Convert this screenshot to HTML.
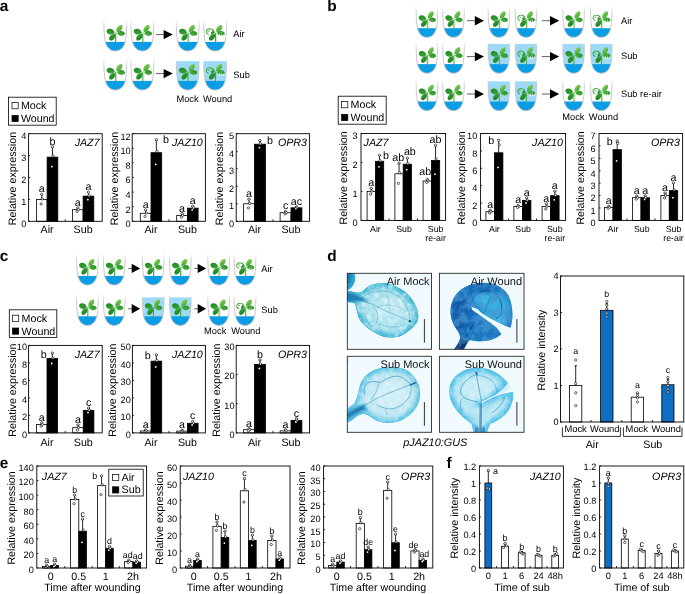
<!DOCTYPE html>
<html><head><meta charset="utf-8"><title>Figure</title>
<style>html,body{margin:0;padding:0;background:#fff;}body{width:685px;height:594px;overflow:hidden;font-family:"Liberation Sans",sans-serif;}svg{display:block;opacity:0.999;text-rendering:geometricPrecision}</style>
</head><body>
<svg width="685" height="594" viewBox="0 0 685 594" font-family="'Liberation Sans', sans-serif">
<defs>
<linearGradient id="tg" x1="0" y1="0" x2="0" y2="1"><stop offset="0" stop-color="#d0d0d0" stop-opacity="0"/><stop offset="0.25" stop-color="#c4c4c4" stop-opacity="1"/><stop offset="1" stop-color="#bdbdbd"/></linearGradient>
<linearGradient id="lf1" x1="0" y1="1" x2="1" y2="0"><stop offset="0" stop-color="#2f9e2c"/><stop offset="1" stop-color="#8fd45a"/></linearGradient>
<linearGradient id="lf2" x1="1" y1="0" x2="0" y2="1"><stop offset="0" stop-color="#1f8e25"/><stop offset="1" stop-color="#58b83f"/></linearGradient>
<linearGradient id="lf3" x1="0" y1="0" x2="1" y2="1"><stop offset="0" stop-color="#44ac36"/><stop offset="1" stop-color="#1b8522"/></linearGradient>
<linearGradient id="lf4" x1="1" y1="0" x2="0" y2="1"><stop offset="0" stop-color="#178020"/><stop offset="1" stop-color="#3ea432"/></linearGradient>
<clipPath id="tubeclip"><path d="M0.9 -3V0C0.9 10 1.2 18 2.4 23.5C3.8 28.8 7.2 32.4 12.1 32.4C17 32.4 20.4 28.8 21.8 23.5C23 18 23.3 10 23.3 0V-3Z"/></clipPath>
<g id="plant">
<path d="M12.5 24V14.5" stroke="#2f9a3a" stroke-width="0.9" fill="none"/><path d="M13.5 24V16.5" stroke="#a5d9a0" stroke-width="0.6" fill="none"/>
<path d="M0 0L1.57 -0.3C2.94 -3.04 9.11 -3.15 9.80 0C9.11 3.15 2.94 3.04 1.57 0.3Z" transform="translate(12.7 14.5) rotate(-53)" fill="url(#lf1)"/>
<path d="M0 0L1.50 -0.3C2.82 -3.62 8.74 -3.75 9.40 0C8.74 3.75 2.82 3.62 1.50 0.3Z" transform="translate(12.7 14.5) rotate(194)" fill="url(#lf3)"/>
<path d="M0 0L1.42 -0.3C2.67 -3.04 8.28 -3.15 8.90 0C8.28 3.15 2.67 3.04 1.42 0.3Z" transform="translate(12.7 14.5) rotate(4)" fill="url(#lf2)"/>
<path d="M0 0L1.50 -0.3C2.82 -3.04 8.74 -3.15 9.40 0C8.74 3.15 2.82 3.04 1.50 0.3Z" transform="translate(12.7 14.5) rotate(131)" fill="url(#lf4)"/>
</g>
<g id="plantw">
<path d="M12.5 24V14.5" stroke="#2f9a3a" stroke-width="0.9" fill="none"/><path d="M13.5 24V16.5" stroke="#a5d9a0" stroke-width="0.6" fill="none"/>
<path d="M0 0L1.57 -0.3C2.94 -3.04 9.11 -3.15 9.80 0C9.11 3.15 2.94 3.04 1.57 0.3Z" transform="translate(12.7 14.5) rotate(-53)" fill="url(#lf1)"/>
<path d="M0 0L1.50 -0.3C2.82 -3.04 8.74 -3.15 9.40 0C8.74 3.15 2.82 3.04 1.50 0.3Z" transform="translate(12.7 14.5) rotate(131)" fill="url(#lf4)"/>
<g transform="translate(12.7 14.5) rotate(194)"><path d="M1.5 0.3C2.8 3.6 8.7 3.8 9.4 0C9.2 -1.7 8 -2.7 6.6 -2.9" fill="none" stroke="#3fa83a" stroke-width="0.95" stroke-linecap="round"/><path d="M0 0L1.5 -0.3C2.2 -1.9 3.2 -2.7 4.6 -2.7L3.9 -1.2L5.2 -0.4L3.7 0.5L4.4 1.7L2.7 1.4L1.5 0.3Z" fill="#2e9a2e"/><path d="M6.2 0.9l0.9 -1.1l0.8 1.1" fill="none" stroke="#3fa83a" stroke-width="0.7"/></g>
<g transform="translate(12.7 14.5) rotate(4)"><path d="M0 0L1.42 -0.3C2.67 -3.04 8.28 -3.15 8.90 0C8.28 3.15 2.67 3.04 1.42 0.3Z" fill="url(#lf2)"/><path d="M3.0 3.2L4.0 0.1L4.9 3.2ZM5.2 3.2L6.1 0.3L6.9 3ZM7.1 2.8L7.8 0.5L8.6 2.2Z" fill="#fff"/><path d="M5.2 -0.9l1.2 0.2" stroke="#fff" stroke-width="0.5"/></g>
</g>
</defs>
<rect width="685" height="594" fill="#fff"/>
<text x="-0.20" y="11.30" font-size="15.4" text-anchor="start" font-weight="bold" fill="#000">a</text>
<text x="327.20" y="11.00" font-size="15.4" text-anchor="start" font-weight="bold" fill="#000">b</text>
<text x="-0.20" y="260.80" font-size="15.4" text-anchor="start" font-weight="bold" fill="#000">c</text>
<text x="327.20" y="260.80" font-size="15.4" text-anchor="start" font-weight="bold" fill="#000">d</text>
<text x="-0.20" y="467.80" font-size="15.4" text-anchor="start" font-weight="bold" fill="#000">e</text>
<text x="446.60" y="467.80" font-size="15.4" text-anchor="start" font-weight="bold" fill="#000">f</text>
<g transform="translate(102.94 18.60)">
<g transform="scale(1.0215 1)">
<g clip-path="url(#tubeclip)">
<rect x="0" y="23.3" width="24" height="10" fill="#0a9de6"/>
</g>
<path d="M0.9 0C0.9 10 1.2 18 2.4 23.5C3.8 28.8 7.2 32.4 12.1 32.4C17 32.4 20.4 28.8 21.8 23.5C23 18 23.3 10 23.3 0" fill="none" stroke="url(#tg)" stroke-width="0.9"/>
<use href="#plant"/>
</g>
</g>
<g transform="translate(130.04 18.60)">
<g transform="scale(1.0215 1)">
<g clip-path="url(#tubeclip)">
<rect x="0" y="23.3" width="24" height="10" fill="#0a9de6"/>
</g>
<path d="M0.9 0C0.9 10 1.2 18 2.4 23.5C3.8 28.8 7.2 32.4 12.1 32.4C17 32.4 20.4 28.8 21.8 23.5C23 18 23.3 10 23.3 0" fill="none" stroke="url(#tg)" stroke-width="0.9"/>
<use href="#plant"/>
</g>
</g>
<path d="M156.00 34.60H164.60" stroke="#3a3a3a" stroke-width="0.8" fill="none"/>
<path d="M172.80 34.60L163.60 29.90V39.30Z" fill="#000"/>
<g transform="translate(175.34 18.60)">
<g transform="scale(1.0215 1)">
<g clip-path="url(#tubeclip)">
<rect x="0" y="23.3" width="24" height="10" fill="#0a9de6"/>
</g>
<path d="M0.9 0C0.9 10 1.2 18 2.4 23.5C3.8 28.8 7.2 32.4 12.1 32.4C17 32.4 20.4 28.8 21.8 23.5C23 18 23.3 10 23.3 0" fill="none" stroke="url(#tg)" stroke-width="0.9"/>
<use href="#plant"/>
</g>
</g>
<g transform="translate(202.74 18.60)">
<g transform="scale(1.0215 1)">
<g clip-path="url(#tubeclip)">
<rect x="0" y="23.3" width="24" height="10" fill="#0a9de6"/>
</g>
<path d="M0.9 0C0.9 10 1.2 18 2.4 23.5C3.8 28.8 7.2 32.4 12.1 32.4C17 32.4 20.4 28.8 21.8 23.5C23 18 23.3 10 23.3 0" fill="none" stroke="url(#tg)" stroke-width="0.9"/>
<use href="#plantw"/>
</g>
</g>
<g transform="translate(102.94 57.60)">
<g transform="scale(1.0215 1)">
<g clip-path="url(#tubeclip)">
<rect x="0" y="23.3" width="24" height="10" fill="#0a9de6"/>
</g>
<path d="M0.9 0C0.9 10 1.2 18 2.4 23.5C3.8 28.8 7.2 32.4 12.1 32.4C17 32.4 20.4 28.8 21.8 23.5C23 18 23.3 10 23.3 0" fill="none" stroke="url(#tg)" stroke-width="0.9"/>
<use href="#plant"/>
</g>
</g>
<g transform="translate(130.04 57.60)">
<g transform="scale(1.0215 1)">
<g clip-path="url(#tubeclip)">
<rect x="0" y="23.3" width="24" height="10" fill="#0a9de6"/>
</g>
<path d="M0.9 0C0.9 10 1.2 18 2.4 23.5C3.8 28.8 7.2 32.4 12.1 32.4C17 32.4 20.4 28.8 21.8 23.5C23 18 23.3 10 23.3 0" fill="none" stroke="url(#tg)" stroke-width="0.9"/>
<use href="#plant"/>
</g>
</g>
<path d="M156.00 73.60H164.60" stroke="#3a3a3a" stroke-width="0.8" fill="none"/>
<path d="M172.80 73.60L163.60 68.90V78.30Z" fill="#000"/>
<g transform="translate(175.34 57.60)">
<g transform="scale(1.0215 1)">
<g clip-path="url(#tubeclip)">
<rect x="0" y="3.6" width="24" height="30" fill="#9edaf7"/>
<rect x="0" y="23.3" width="24" height="10" fill="#0a9de6"/>
</g>
<path d="M0.9 0C0.9 10 1.2 18 2.4 23.5C3.8 28.8 7.2 32.4 12.1 32.4C17 32.4 20.4 28.8 21.8 23.5C23 18 23.3 10 23.3 0" fill="none" stroke="url(#tg)" stroke-width="0.9"/>
<use href="#plant"/>
</g>
</g>
<g transform="translate(202.74 57.60)">
<g transform="scale(1.0215 1)">
<g clip-path="url(#tubeclip)">
<rect x="0" y="3.6" width="24" height="30" fill="#9edaf7"/>
<rect x="0" y="23.3" width="24" height="10" fill="#0a9de6"/>
</g>
<path d="M0.9 0C0.9 10 1.2 18 2.4 23.5C3.8 28.8 7.2 32.4 12.1 32.4C17 32.4 20.4 28.8 21.8 23.5C23 18 23.3 10 23.3 0" fill="none" stroke="url(#tg)" stroke-width="0.9"/>
<use href="#plantw"/>
</g>
</g>
<text x="233.30" y="36.60" font-size="9.3" text-anchor="start" fill="#000">Air</text>
<text x="233.30" y="77.90" font-size="9.3" text-anchor="start" fill="#000">Sub</text>
<text x="187.50" y="101.80" font-size="9.3" text-anchor="middle" fill="#000">Mock</text>
<text x="217.60" y="101.80" font-size="9.3" text-anchor="middle" fill="#000">Wound</text>
<rect x="8.50" y="97.20" width="47.70" height="28.00" fill="#fff" stroke="#000" stroke-width="0.8"/>
<rect x="12.00" y="102.60" width="6.2" height="6.2" fill="#fff" stroke="#000" stroke-width="0.7"/>
<text x="20.90" y="109.20" font-size="10.7" text-anchor="start" fill="#000">Mock</text>
<rect x="12.00" y="115.40" width="6.2" height="6.2" fill="#000" stroke="#000" stroke-width="0.7"/>
<text x="20.90" y="122.00" font-size="10.7" text-anchor="start" fill="#000">Wound</text>
<rect x="36.40" y="199.40" width="10.70" height="21.90" fill="#fff" stroke="#000" stroke-width="0.8"/>
<path d="M41.75 199.40V194.58M40.45 194.58H43.05" stroke="#000" stroke-width="0.85" fill="none"/>
<circle cx="41.75" cy="194.34" r="1.15" fill="#fff" stroke="#000" stroke-width="0.6"/>
<circle cx="42.35" cy="198.92" r="1.15" fill="#fff" stroke="#000" stroke-width="0.6"/>
<circle cx="41.15" cy="203.98" r="1.15" fill="#fff" stroke="#000" stroke-width="0.6"/>
<text x="41.75" y="192.34" font-size="10.7" text-anchor="middle" fill="#000">a</text>
<rect x="47.10" y="157.13" width="10.70" height="64.17" fill="#000" stroke="#000" stroke-width="0.8"/>
<path d="M52.45 157.13V147.06M51.15 147.06H53.75" stroke="#000" stroke-width="0.85" fill="none"/>
<circle cx="52.45" cy="146.56" r="1.15" fill="#fff" stroke="#000" stroke-width="0.6"/>
<circle cx="53.05" cy="156.13" r="1.15" fill="#fff" stroke="#000" stroke-width="0.6"/>
<circle cx="51.85" cy="166.70" r="0.9" fill="#fff"/>
<text x="52.45" y="144.56" font-size="10.7" text-anchor="middle" fill="#000">b</text>
<rect x="72.40" y="209.69" width="10.70" height="11.61" fill="#fff" stroke="#000" stroke-width="0.8"/>
<path d="M77.75 209.69V207.94M76.45 207.94H79.05" stroke="#000" stroke-width="0.85" fill="none"/>
<circle cx="77.75" cy="207.85" r="1.15" fill="#fff" stroke="#000" stroke-width="0.6"/>
<circle cx="78.35" cy="209.52" r="1.15" fill="#fff" stroke="#000" stroke-width="0.6"/>
<circle cx="77.15" cy="211.36" r="1.15" fill="#fff" stroke="#000" stroke-width="0.6"/>
<text x="77.75" y="205.85" font-size="10.7" text-anchor="middle" fill="#000">a</text>
<rect x="83.10" y="196.12" width="10.70" height="25.19" fill="#000" stroke="#000" stroke-width="0.8"/>
<path d="M88.45 196.12V192.39M87.15 192.39H89.75" stroke="#000" stroke-width="0.85" fill="none"/>
<circle cx="88.45" cy="192.21" r="1.15" fill="#fff" stroke="#000" stroke-width="0.6"/>
<circle cx="89.05" cy="195.74" r="1.15" fill="#fff" stroke="#000" stroke-width="0.6"/>
<circle cx="87.85" cy="199.65" r="0.9" fill="#fff"/>
<text x="88.45" y="190.21" font-size="10.7" text-anchor="middle" fill="#000">a</text>
<rect x="28.60" y="133.70" width="73.60" height="87.60" fill="none" stroke="#000" stroke-width="0.9"/>
<text x="26.40" y="226.91" font-size="9.2" text-anchor="end" fill="#000">0</text>
<text x="26.40" y="205.01" font-size="9.2" text-anchor="end" fill="#000">1</text>
<text x="26.40" y="183.11" font-size="9.2" text-anchor="end" fill="#000">2</text>
<text x="26.40" y="161.21" font-size="9.2" text-anchor="end" fill="#000">3</text>
<text x="26.40" y="139.31" font-size="9.2" text-anchor="end" fill="#000">4</text>
<path d="M28.60 221.30h1.6M28.60 199.40h1.6M28.60 177.50h1.6M28.60 155.60h1.6M28.60 133.70h1.6M65.20 221.30v-2" stroke="#000" stroke-width="0.8" fill="none"/>
<text x="15.60" y="178.50" font-size="10.7" text-anchor="middle" transform="rotate(-90 15.60 178.50)" fill="#000">Relative expression</text>
<text x="99.60" y="145.80" font-size="10.7" text-anchor="end" font-style="italic" fill="#000">JAZ7</text>
<text x="47.10" y="232.50" font-size="10.7" text-anchor="middle" fill="#000">Air</text>
<text x="83.10" y="232.50" font-size="10.7" text-anchor="middle" fill="#000">Sub</text>
<rect x="140.30" y="213.27" width="10.70" height="8.03" fill="#fff" stroke="#000" stroke-width="0.8"/>
<path d="M145.65 213.27V209.99M144.35 209.99H146.95" stroke="#000" stroke-width="0.85" fill="none"/>
<circle cx="145.65" cy="209.82" r="1.15" fill="#fff" stroke="#000" stroke-width="0.6"/>
<circle cx="146.25" cy="212.94" r="1.15" fill="#fff" stroke="#000" stroke-width="0.6"/>
<circle cx="145.05" cy="216.39" r="1.15" fill="#fff" stroke="#000" stroke-width="0.6"/>
<text x="145.65" y="207.82" font-size="10.7" text-anchor="middle" fill="#000">a</text>
<rect x="151.00" y="152.68" width="10.70" height="68.62" fill="#000" stroke="#000" stroke-width="0.8"/>
<path d="M156.35 152.68V140.27M155.05 140.27H157.65" stroke="#000" stroke-width="0.85" fill="none"/>
<circle cx="156.35" cy="139.65" r="1.15" fill="#fff" stroke="#000" stroke-width="0.6"/>
<circle cx="156.95" cy="151.44" r="1.15" fill="#fff" stroke="#000" stroke-width="0.6"/>
<circle cx="155.75" cy="164.47" r="0.9" fill="#fff"/>
<text x="162.90" y="142.95" font-size="10.7" text-anchor="start" fill="#000">b</text>
<rect x="176.70" y="215.46" width="10.70" height="5.84" fill="#fff" stroke="#000" stroke-width="0.8"/>
<path d="M182.05 215.46V213.64M180.75 213.64H183.35" stroke="#000" stroke-width="0.85" fill="none"/>
<circle cx="182.05" cy="213.54" r="1.15" fill="#fff" stroke="#000" stroke-width="0.6"/>
<circle cx="182.65" cy="215.28" r="1.15" fill="#fff" stroke="#000" stroke-width="0.6"/>
<circle cx="181.45" cy="217.19" r="1.15" fill="#fff" stroke="#000" stroke-width="0.6"/>
<text x="182.05" y="211.54" font-size="10.7" text-anchor="middle" fill="#000">a</text>
<rect x="187.40" y="208.16" width="10.70" height="13.14" fill="#000" stroke="#000" stroke-width="0.8"/>
<path d="M192.75 208.16V206.34M191.45 206.34H194.05" stroke="#000" stroke-width="0.85" fill="none"/>
<circle cx="192.75" cy="206.24" r="1.15" fill="#fff" stroke="#000" stroke-width="0.6"/>
<circle cx="193.35" cy="207.98" r="1.15" fill="#fff" stroke="#000" stroke-width="0.6"/>
<circle cx="192.15" cy="209.89" r="0.9" fill="#fff"/>
<text x="192.75" y="204.24" font-size="10.7" text-anchor="middle" fill="#000">a</text>
<rect x="132.20" y="133.70" width="73.20" height="87.60" fill="none" stroke="#000" stroke-width="0.9"/>
<text x="130.70" y="227.11" font-size="9.2" text-anchor="end" fill="#000">0</text>
<text x="130.70" y="212.51" font-size="9.2" text-anchor="end" fill="#000">2</text>
<text x="130.70" y="197.91" font-size="9.2" text-anchor="end" fill="#000">4</text>
<text x="130.70" y="183.31" font-size="9.2" text-anchor="end" fill="#000">6</text>
<text x="130.70" y="168.71" font-size="9.2" text-anchor="end" fill="#000">8</text>
<text x="130.70" y="154.11" font-size="9.2" text-anchor="end" fill="#000">10</text>
<text x="130.70" y="139.51" font-size="9.2" text-anchor="end" fill="#000">12</text>
<path d="M132.20 221.30h1.6M132.20 206.70h1.6M132.20 192.10h1.6M132.20 177.50h1.6M132.20 162.90h1.6M132.20 148.30h1.6M132.20 133.70h1.6M169.00 221.30v-2" stroke="#000" stroke-width="0.8" fill="none"/>
<text x="118.00" y="178.50" font-size="10.7" text-anchor="middle" transform="rotate(-90 118.00 178.50)" fill="#000">Relative expression</text>
<text x="202.80" y="145.80" font-size="10.7" text-anchor="end" font-style="italic" fill="#000">JAZ10</text>
<text x="151.00" y="232.50" font-size="10.7" text-anchor="middle" fill="#000">Air</text>
<text x="187.40" y="232.50" font-size="10.7" text-anchor="middle" fill="#000">Sub</text>
<rect x="243.60" y="203.78" width="10.90" height="17.52" fill="#fff" stroke="#000" stroke-width="0.8"/>
<path d="M249.05 203.78V199.40M247.75 199.40H250.35" stroke="#000" stroke-width="0.85" fill="none"/>
<circle cx="249.05" cy="199.18" r="1.15" fill="#fff" stroke="#000" stroke-width="0.6"/>
<circle cx="249.65" cy="203.34" r="1.15" fill="#fff" stroke="#000" stroke-width="0.6"/>
<circle cx="248.45" cy="207.94" r="1.15" fill="#fff" stroke="#000" stroke-width="0.6"/>
<text x="249.05" y="197.18" font-size="10.7" text-anchor="middle" fill="#000">a</text>
<rect x="254.50" y="144.21" width="10.90" height="77.09" fill="#000" stroke="#000" stroke-width="0.8"/>
<path d="M259.95 144.21V140.71M258.65 140.71H261.25" stroke="#000" stroke-width="0.85" fill="none"/>
<circle cx="259.95" cy="140.53" r="1.15" fill="#fff" stroke="#000" stroke-width="0.6"/>
<circle cx="260.55" cy="143.86" r="1.15" fill="#fff" stroke="#000" stroke-width="0.6"/>
<circle cx="259.35" cy="147.54" r="0.9" fill="#fff"/>
<text x="266.90" y="144.33" font-size="10.7" text-anchor="start" fill="#000">b</text>
<rect x="280.10" y="212.72" width="10.90" height="8.58" fill="#fff" stroke="#000" stroke-width="0.8"/>
<path d="M285.55 212.72V211.49M284.25 211.49H286.85" stroke="#000" stroke-width="0.85" fill="none"/>
<circle cx="285.55" cy="211.43" r="1.15" fill="#fff" stroke="#000" stroke-width="0.6"/>
<circle cx="286.15" cy="212.59" r="1.15" fill="#fff" stroke="#000" stroke-width="0.6"/>
<circle cx="284.95" cy="213.88" r="1.15" fill="#fff" stroke="#000" stroke-width="0.6"/>
<text x="285.55" y="209.43" font-size="10.7" text-anchor="middle" fill="#000">c</text>
<rect x="291.00" y="207.81" width="10.90" height="13.49" fill="#000" stroke="#000" stroke-width="0.8"/>
<path d="M296.45 207.81V207.11M295.15 207.11H297.75" stroke="#000" stroke-width="0.85" fill="none"/>
<circle cx="296.45" cy="206.71" r="1.15" fill="#fff" stroke="#000" stroke-width="0.6"/>
<circle cx="297.05" cy="207.70" r="1.15" fill="#fff" stroke="#000" stroke-width="0.6"/>
<circle cx="295.85" cy="208.81" r="1.15" fill="#fff" stroke="#000" stroke-width="0.6"/>
<text x="296.45" y="204.71" font-size="10.7" text-anchor="middle" fill="#000">ac</text>
<rect x="236.20" y="133.70" width="73.40" height="87.60" fill="none" stroke="#000" stroke-width="0.9"/>
<text x="234.00" y="226.91" font-size="9.2" text-anchor="end" fill="#000">0</text>
<text x="234.00" y="209.39" font-size="9.2" text-anchor="end" fill="#000">1</text>
<text x="234.00" y="191.87" font-size="9.2" text-anchor="end" fill="#000">2</text>
<text x="234.00" y="174.35" font-size="9.2" text-anchor="end" fill="#000">3</text>
<text x="234.00" y="156.83" font-size="9.2" text-anchor="end" fill="#000">4</text>
<text x="234.00" y="139.31" font-size="9.2" text-anchor="end" fill="#000">5</text>
<path d="M236.20 221.30h1.6M236.20 203.78h1.6M236.20 186.26h1.6M236.20 168.74h1.6M236.20 151.22h1.6M236.20 133.70h1.6M273.00 221.30v-2" stroke="#000" stroke-width="0.8" fill="none"/>
<text x="223.40" y="178.50" font-size="10.7" text-anchor="middle" transform="rotate(-90 223.40 178.50)" fill="#000">Relative expression</text>
<text x="307.00" y="145.80" font-size="10.7" text-anchor="end" font-style="italic" fill="#000">OPR3</text>
<text x="254.50" y="232.50" font-size="10.7" text-anchor="middle" fill="#000">Air</text>
<text x="291.00" y="232.50" font-size="10.7" text-anchor="middle" fill="#000">Sub</text>
<g transform="translate(415.22 4.90)">
<g transform="scale(0.9657 1)">
<g clip-path="url(#tubeclip)">
<rect x="0" y="23.3" width="24" height="10" fill="#0a9de6"/>
</g>
<path d="M0.9 0C0.9 10 1.2 18 2.4 23.5C3.8 28.8 7.2 32.4 12.1 32.4C17 32.4 20.4 28.8 21.8 23.5C23 18 23.3 10 23.3 0" fill="none" stroke="url(#tg)" stroke-width="0.9"/>
<use href="#plant"/>
</g>
</g>
<g transform="translate(441.82 4.90)">
<g transform="scale(0.9657 1)">
<g clip-path="url(#tubeclip)">
<rect x="0" y="23.3" width="24" height="10" fill="#0a9de6"/>
</g>
<path d="M0.9 0C0.9 10 1.2 18 2.4 23.5C3.8 28.8 7.2 32.4 12.1 32.4C17 32.4 20.4 28.8 21.8 23.5C23 18 23.3 10 23.3 0" fill="none" stroke="url(#tg)" stroke-width="0.9"/>
<use href="#plant"/>
</g>
</g>
<path d="M467.00 20.70H475.80" stroke="#3a3a3a" stroke-width="0.8" fill="none"/>
<path d="M484.00 20.70L474.80 16.00V25.40Z" fill="#000"/>
<g transform="translate(487.22 4.90)">
<g transform="scale(0.9657 1)">
<g clip-path="url(#tubeclip)">
<rect x="0" y="23.3" width="24" height="10" fill="#0a9de6"/>
</g>
<path d="M0.9 0C0.9 10 1.2 18 2.4 23.5C3.8 28.8 7.2 32.4 12.1 32.4C17 32.4 20.4 28.8 21.8 23.5C23 18 23.3 10 23.3 0" fill="none" stroke="url(#tg)" stroke-width="0.9"/>
<use href="#plant"/>
</g>
</g>
<g transform="translate(514.32 4.90)">
<g transform="scale(0.9657 1)">
<g clip-path="url(#tubeclip)">
<rect x="0" y="23.3" width="24" height="10" fill="#0a9de6"/>
</g>
<path d="M0.9 0C0.9 10 1.2 18 2.4 23.5C3.8 28.8 7.2 32.4 12.1 32.4C17 32.4 20.4 28.8 21.8 23.5C23 18 23.3 10 23.3 0" fill="none" stroke="url(#tg)" stroke-width="0.9"/>
<use href="#plantw"/>
</g>
</g>
<path d="M541.80 20.70H551.00" stroke="#3a3a3a" stroke-width="0.8" fill="none"/>
<path d="M559.20 20.70L550.00 16.00V25.40Z" fill="#000"/>
<g transform="translate(561.92 4.90)">
<g transform="scale(0.9657 1)">
<g clip-path="url(#tubeclip)">
<rect x="0" y="23.3" width="24" height="10" fill="#0a9de6"/>
</g>
<path d="M0.9 0C0.9 10 1.2 18 2.4 23.5C3.8 28.8 7.2 32.4 12.1 32.4C17 32.4 20.4 28.8 21.8 23.5C23 18 23.3 10 23.3 0" fill="none" stroke="url(#tg)" stroke-width="0.9"/>
<use href="#plant"/>
</g>
</g>
<g transform="translate(589.62 4.90)">
<g transform="scale(0.9657 1)">
<g clip-path="url(#tubeclip)">
<rect x="0" y="23.3" width="24" height="10" fill="#0a9de6"/>
</g>
<path d="M0.9 0C0.9 10 1.2 18 2.4 23.5C3.8 28.8 7.2 32.4 12.1 32.4C17 32.4 20.4 28.8 21.8 23.5C23 18 23.3 10 23.3 0" fill="none" stroke="url(#tg)" stroke-width="0.9"/>
<use href="#plantw"/>
</g>
</g>
<g transform="translate(415.22 40.80)">
<g transform="scale(0.9657 1)">
<g clip-path="url(#tubeclip)">
<rect x="0" y="23.3" width="24" height="10" fill="#0a9de6"/>
</g>
<path d="M0.9 0C0.9 10 1.2 18 2.4 23.5C3.8 28.8 7.2 32.4 12.1 32.4C17 32.4 20.4 28.8 21.8 23.5C23 18 23.3 10 23.3 0" fill="none" stroke="url(#tg)" stroke-width="0.9"/>
<use href="#plant"/>
</g>
</g>
<g transform="translate(441.82 40.80)">
<g transform="scale(0.9657 1)">
<g clip-path="url(#tubeclip)">
<rect x="0" y="23.3" width="24" height="10" fill="#0a9de6"/>
</g>
<path d="M0.9 0C0.9 10 1.2 18 2.4 23.5C3.8 28.8 7.2 32.4 12.1 32.4C17 32.4 20.4 28.8 21.8 23.5C23 18 23.3 10 23.3 0" fill="none" stroke="url(#tg)" stroke-width="0.9"/>
<use href="#plant"/>
</g>
</g>
<path d="M467.00 56.60H475.80" stroke="#3a3a3a" stroke-width="0.8" fill="none"/>
<path d="M484.00 56.60L474.80 51.90V61.30Z" fill="#000"/>
<g transform="translate(487.22 40.80)">
<g transform="scale(0.9657 1)">
<g clip-path="url(#tubeclip)">
<rect x="0" y="3.1" width="24" height="30" fill="#9edaf7"/>
<rect x="0" y="23.3" width="24" height="10" fill="#0a9de6"/>
</g>
<path d="M0.9 0C0.9 10 1.2 18 2.4 23.5C3.8 28.8 7.2 32.4 12.1 32.4C17 32.4 20.4 28.8 21.8 23.5C23 18 23.3 10 23.3 0" fill="none" stroke="url(#tg)" stroke-width="0.9"/>
<use href="#plant"/>
</g>
</g>
<g transform="translate(514.32 40.80)">
<g transform="scale(0.9657 1)">
<g clip-path="url(#tubeclip)">
<rect x="0" y="3.1" width="24" height="30" fill="#9edaf7"/>
<rect x="0" y="23.3" width="24" height="10" fill="#0a9de6"/>
</g>
<path d="M0.9 0C0.9 10 1.2 18 2.4 23.5C3.8 28.8 7.2 32.4 12.1 32.4C17 32.4 20.4 28.8 21.8 23.5C23 18 23.3 10 23.3 0" fill="none" stroke="url(#tg)" stroke-width="0.9"/>
<use href="#plantw"/>
</g>
</g>
<path d="M541.80 56.60H551.00" stroke="#3a3a3a" stroke-width="0.8" fill="none"/>
<path d="M559.20 56.60L550.00 51.90V61.30Z" fill="#000"/>
<g transform="translate(561.92 40.80)">
<g transform="scale(0.9657 1)">
<g clip-path="url(#tubeclip)">
<rect x="0" y="3.1" width="24" height="30" fill="#9edaf7"/>
<rect x="0" y="23.3" width="24" height="10" fill="#0a9de6"/>
</g>
<path d="M0.9 0C0.9 10 1.2 18 2.4 23.5C3.8 28.8 7.2 32.4 12.1 32.4C17 32.4 20.4 28.8 21.8 23.5C23 18 23.3 10 23.3 0" fill="none" stroke="url(#tg)" stroke-width="0.9"/>
<use href="#plant"/>
</g>
</g>
<g transform="translate(589.62 40.80)">
<g transform="scale(0.9657 1)">
<g clip-path="url(#tubeclip)">
<rect x="0" y="3.1" width="24" height="30" fill="#9edaf7"/>
<rect x="0" y="23.3" width="24" height="10" fill="#0a9de6"/>
</g>
<path d="M0.9 0C0.9 10 1.2 18 2.4 23.5C3.8 28.8 7.2 32.4 12.1 32.4C17 32.4 20.4 28.8 21.8 23.5C23 18 23.3 10 23.3 0" fill="none" stroke="url(#tg)" stroke-width="0.9"/>
<use href="#plantw"/>
</g>
</g>
<g transform="translate(415.22 78.20)">
<g transform="scale(0.9657 1)">
<g clip-path="url(#tubeclip)">
<rect x="0" y="23.3" width="24" height="10" fill="#0a9de6"/>
</g>
<path d="M0.9 0C0.9 10 1.2 18 2.4 23.5C3.8 28.8 7.2 32.4 12.1 32.4C17 32.4 20.4 28.8 21.8 23.5C23 18 23.3 10 23.3 0" fill="none" stroke="url(#tg)" stroke-width="0.9"/>
<use href="#plant"/>
</g>
</g>
<g transform="translate(441.82 78.20)">
<g transform="scale(0.9657 1)">
<g clip-path="url(#tubeclip)">
<rect x="0" y="23.3" width="24" height="10" fill="#0a9de6"/>
</g>
<path d="M0.9 0C0.9 10 1.2 18 2.4 23.5C3.8 28.8 7.2 32.4 12.1 32.4C17 32.4 20.4 28.8 21.8 23.5C23 18 23.3 10 23.3 0" fill="none" stroke="url(#tg)" stroke-width="0.9"/>
<use href="#plant"/>
</g>
</g>
<path d="M467.00 94.00H475.80" stroke="#3a3a3a" stroke-width="0.8" fill="none"/>
<path d="M484.00 94.00L474.80 89.30V98.70Z" fill="#000"/>
<g transform="translate(487.22 78.20)">
<g transform="scale(0.9657 1)">
<g clip-path="url(#tubeclip)">
<rect x="0" y="3.1" width="24" height="30" fill="#9edaf7"/>
<rect x="0" y="23.3" width="24" height="10" fill="#0a9de6"/>
</g>
<path d="M0.9 0C0.9 10 1.2 18 2.4 23.5C3.8 28.8 7.2 32.4 12.1 32.4C17 32.4 20.4 28.8 21.8 23.5C23 18 23.3 10 23.3 0" fill="none" stroke="url(#tg)" stroke-width="0.9"/>
<use href="#plant"/>
</g>
</g>
<g transform="translate(514.32 78.20)">
<g transform="scale(0.9657 1)">
<g clip-path="url(#tubeclip)">
<rect x="0" y="3.1" width="24" height="30" fill="#9edaf7"/>
<rect x="0" y="23.3" width="24" height="10" fill="#0a9de6"/>
</g>
<path d="M0.9 0C0.9 10 1.2 18 2.4 23.5C3.8 28.8 7.2 32.4 12.1 32.4C17 32.4 20.4 28.8 21.8 23.5C23 18 23.3 10 23.3 0" fill="none" stroke="url(#tg)" stroke-width="0.9"/>
<use href="#plantw"/>
</g>
</g>
<path d="M541.80 94.00H551.00" stroke="#3a3a3a" stroke-width="0.8" fill="none"/>
<path d="M559.20 94.00L550.00 89.30V98.70Z" fill="#000"/>
<g transform="translate(561.92 78.20)">
<g transform="scale(0.9657 1)">
<g clip-path="url(#tubeclip)">
<rect x="0" y="23.3" width="24" height="10" fill="#0a9de6"/>
</g>
<path d="M0.9 0C0.9 10 1.2 18 2.4 23.5C3.8 28.8 7.2 32.4 12.1 32.4C17 32.4 20.4 28.8 21.8 23.5C23 18 23.3 10 23.3 0" fill="none" stroke="url(#tg)" stroke-width="0.9"/>
<use href="#plant"/>
</g>
</g>
<g transform="translate(589.62 78.20)">
<g transform="scale(0.9657 1)">
<g clip-path="url(#tubeclip)">
<rect x="0" y="23.3" width="24" height="10" fill="#0a9de6"/>
</g>
<path d="M0.9 0C0.9 10 1.2 18 2.4 23.5C3.8 28.8 7.2 32.4 12.1 32.4C17 32.4 20.4 28.8 21.8 23.5C23 18 23.3 10 23.3 0" fill="none" stroke="url(#tg)" stroke-width="0.9"/>
<use href="#plantw"/>
</g>
</g>
<text x="621.00" y="24.30" font-size="9.3" text-anchor="start" fill="#000">Air</text>
<text x="621.00" y="59.40" font-size="9.3" text-anchor="start" fill="#000">Sub</text>
<text x="621.00" y="96.80" font-size="9.3" text-anchor="start" fill="#000">Sub re-air</text>
<text x="573.40" y="119.60" font-size="9.3" text-anchor="middle" fill="#000">Mock</text>
<text x="603.50" y="119.60" font-size="9.3" text-anchor="middle" fill="#000">Wound</text>
<rect x="338.20" y="96.20" width="48.00" height="28.00" fill="#fff" stroke="#000" stroke-width="0.8"/>
<rect x="341.60" y="101.60" width="6.2" height="6.2" fill="#fff" stroke="#000" stroke-width="0.7"/>
<text x="350.60" y="108.20" font-size="10.7" text-anchor="start" fill="#000">Mock</text>
<rect x="341.60" y="114.40" width="6.2" height="6.2" fill="#000" stroke="#000" stroke-width="0.7"/>
<text x="350.60" y="121.00" font-size="10.7" text-anchor="start" fill="#000">Wound</text>
<rect x="367.10" y="191.43" width="8.30" height="28.97" fill="#fff" stroke="#000" stroke-width="0.8"/>
<path d="M371.25 191.43V188.54M369.95 188.54H372.55" stroke="#000" stroke-width="0.85" fill="none"/>
<circle cx="371.25" cy="188.39" r="1.15" fill="#fff" stroke="#000" stroke-width="0.6"/>
<circle cx="371.85" cy="191.14" r="1.15" fill="#fff" stroke="#000" stroke-width="0.6"/>
<circle cx="370.65" cy="194.19" r="1.15" fill="#fff" stroke="#000" stroke-width="0.6"/>
<text x="371.25" y="186.39" font-size="10.7" text-anchor="middle" fill="#000">a</text>
<rect x="375.40" y="161.31" width="8.30" height="59.09" fill="#000" stroke="#000" stroke-width="0.8"/>
<path d="M379.55 161.31V155.51M378.25 155.51H380.85" stroke="#000" stroke-width="0.85" fill="none"/>
<circle cx="379.55" cy="155.22" r="1.15" fill="#fff" stroke="#000" stroke-width="0.6"/>
<circle cx="380.15" cy="160.73" r="1.15" fill="#fff" stroke="#000" stroke-width="0.6"/>
<circle cx="378.95" cy="166.81" r="0.9" fill="#fff"/>
<text x="383.10" y="159.03" font-size="10.7" text-anchor="start" fill="#000">b</text>
<rect x="394.90" y="173.76" width="8.30" height="46.64" fill="#fff" stroke="#000" stroke-width="0.8"/>
<path d="M399.05 173.76V163.63M397.75 163.63H400.35" stroke="#000" stroke-width="0.85" fill="none"/>
<circle cx="399.05" cy="163.12" r="1.15" fill="#fff" stroke="#000" stroke-width="0.6"/>
<circle cx="399.65" cy="172.75" r="1.15" fill="#fff" stroke="#000" stroke-width="0.6"/>
<circle cx="398.45" cy="183.40" r="1.15" fill="#fff" stroke="#000" stroke-width="0.6"/>
<text x="398.25" y="161.12" font-size="10.7" text-anchor="middle" fill="#000">ab</text>
<rect x="403.20" y="164.20" width="8.30" height="56.20" fill="#000" stroke="#000" stroke-width="0.8"/>
<path d="M407.35 164.20V158.41M406.05 158.41H408.65" stroke="#000" stroke-width="0.85" fill="none"/>
<circle cx="407.35" cy="158.12" r="1.15" fill="#fff" stroke="#000" stroke-width="0.6"/>
<circle cx="407.95" cy="163.63" r="1.15" fill="#fff" stroke="#000" stroke-width="0.6"/>
<circle cx="406.75" cy="169.71" r="0.9" fill="#fff"/>
<text x="409.85" y="154.62" font-size="10.7" text-anchor="middle" fill="#000">ab</text>
<rect x="423.10" y="181.01" width="8.30" height="39.39" fill="#fff" stroke="#000" stroke-width="0.8"/>
<path d="M427.25 181.01V179.56M425.95 179.56H428.55" stroke="#000" stroke-width="0.85" fill="none"/>
<circle cx="427.25" cy="179.48" r="1.15" fill="#fff" stroke="#000" stroke-width="0.6"/>
<circle cx="427.85" cy="180.86" r="1.15" fill="#fff" stroke="#000" stroke-width="0.6"/>
<circle cx="426.65" cy="182.38" r="1.15" fill="#fff" stroke="#000" stroke-width="0.6"/>
<text x="425.25" y="174.98" font-size="10.7" text-anchor="middle" fill="#000">ab</text>
<rect x="431.40" y="160.44" width="8.30" height="59.96" fill="#000" stroke="#000" stroke-width="0.8"/>
<path d="M435.55 160.44V145.96M434.25 145.96H436.85" stroke="#000" stroke-width="0.85" fill="none"/>
<circle cx="435.55" cy="145.23" r="1.15" fill="#fff" stroke="#000" stroke-width="0.6"/>
<circle cx="436.15" cy="158.99" r="1.15" fill="#fff" stroke="#000" stroke-width="0.6"/>
<circle cx="434.95" cy="174.20" r="0.9" fill="#fff"/>
<text x="435.55" y="143.23" font-size="10.7" text-anchor="middle" fill="#000">ab</text>
<rect x="361.00" y="133.50" width="84.60" height="86.90" fill="none" stroke="#000" stroke-width="0.9"/>
<text x="357.70" y="226.21" font-size="9.2" text-anchor="end" fill="#000">0</text>
<text x="357.70" y="197.25" font-size="9.2" text-anchor="end" fill="#000">1</text>
<text x="357.70" y="168.28" font-size="9.2" text-anchor="end" fill="#000">2</text>
<text x="357.70" y="139.31" font-size="9.2" text-anchor="end" fill="#000">3</text>
<path d="M361.00 220.40h1.6M361.00 191.43h1.6M361.00 162.47h1.6M361.00 133.50h1.6M389.00 220.40v-2M417.50 220.40v-2" stroke="#000" stroke-width="0.8" fill="none"/>
<text x="347.20" y="177.95" font-size="10.7" text-anchor="middle" transform="rotate(-90 347.20 177.95)" fill="#000">Relative expression</text>
<text x="363.60" y="145.60" font-size="10.7" text-anchor="start" font-style="italic" fill="#000">JAZ7</text>
<text x="375.40" y="231.50" font-size="8.8" text-anchor="middle" fill="#000">Air</text>
<text x="404.00" y="231.50" font-size="8.8" text-anchor="middle" fill="#000">Sub</text>
<text x="435.60" y="231.50" font-size="8.8" text-anchor="middle" fill="#000">Sub</text>
<text x="435.60" y="240.70" font-size="8.8" text-anchor="middle" fill="#000">re-air</text>
<rect x="485.90" y="211.71" width="8.50" height="8.69" fill="#fff" stroke="#000" stroke-width="0.8"/>
<path d="M490.15 211.71V210.41M488.85 210.41H491.45" stroke="#000" stroke-width="0.85" fill="none"/>
<circle cx="490.15" cy="210.34" r="1.15" fill="#fff" stroke="#000" stroke-width="0.6"/>
<circle cx="490.75" cy="211.58" r="1.15" fill="#fff" stroke="#000" stroke-width="0.6"/>
<circle cx="489.55" cy="212.95" r="1.15" fill="#fff" stroke="#000" stroke-width="0.6"/>
<text x="490.15" y="208.34" font-size="10.7" text-anchor="middle" fill="#000">a</text>
<rect x="494.40" y="152.79" width="8.50" height="67.61" fill="#000" stroke="#000" stroke-width="0.8"/>
<path d="M498.65 152.79V139.76M497.35 139.76H499.95" stroke="#000" stroke-width="0.85" fill="none"/>
<circle cx="498.65" cy="140.45" r="1.15" fill="#fff" stroke="#000" stroke-width="0.6"/>
<circle cx="499.25" cy="144.80" r="1.15" fill="#fff" stroke="#000" stroke-width="0.6"/>
<circle cx="498.05" cy="167.39" r="0.9" fill="#fff"/>
<text x="494.10" y="144.25" font-size="10.7" text-anchor="end" fill="#000">b</text>
<rect x="513.90" y="206.50" width="8.50" height="13.90" fill="#fff" stroke="#000" stroke-width="0.8"/>
<path d="M518.15 206.50V205.63M516.85 205.63H519.45" stroke="#000" stroke-width="0.85" fill="none"/>
<circle cx="518.15" cy="205.40" r="1.15" fill="#fff" stroke="#000" stroke-width="0.6"/>
<circle cx="518.75" cy="206.39" r="1.15" fill="#fff" stroke="#000" stroke-width="0.6"/>
<circle cx="517.55" cy="207.49" r="1.15" fill="#fff" stroke="#000" stroke-width="0.6"/>
<text x="518.15" y="203.40" font-size="10.7" text-anchor="middle" fill="#000">a</text>
<rect x="522.40" y="200.41" width="8.50" height="19.99" fill="#000" stroke="#000" stroke-width="0.8"/>
<path d="M526.65 200.41V197.81M525.35 197.81H527.95" stroke="#000" stroke-width="0.85" fill="none"/>
<circle cx="526.65" cy="197.68" r="1.15" fill="#fff" stroke="#000" stroke-width="0.6"/>
<circle cx="527.25" cy="200.15" r="1.15" fill="#fff" stroke="#000" stroke-width="0.6"/>
<circle cx="526.05" cy="202.89" r="0.9" fill="#fff"/>
<text x="526.65" y="195.68" font-size="10.7" text-anchor="middle" fill="#000">a</text>
<rect x="542.10" y="206.50" width="8.50" height="13.90" fill="#fff" stroke="#000" stroke-width="0.8"/>
<path d="M546.35 206.50V203.89M545.05 203.89H547.65" stroke="#000" stroke-width="0.85" fill="none"/>
<circle cx="546.35" cy="203.76" r="1.15" fill="#fff" stroke="#000" stroke-width="0.6"/>
<circle cx="546.95" cy="206.24" r="1.15" fill="#fff" stroke="#000" stroke-width="0.6"/>
<circle cx="545.75" cy="208.97" r="1.15" fill="#fff" stroke="#000" stroke-width="0.6"/>
<text x="546.35" y="201.76" font-size="10.7" text-anchor="middle" fill="#000">a</text>
<rect x="550.60" y="195.72" width="8.50" height="24.68" fill="#000" stroke="#000" stroke-width="0.8"/>
<path d="M554.85 195.72V191.38M553.55 191.38H556.15" stroke="#000" stroke-width="0.85" fill="none"/>
<circle cx="554.85" cy="191.16" r="1.15" fill="#fff" stroke="#000" stroke-width="0.6"/>
<circle cx="555.45" cy="195.29" r="1.15" fill="#fff" stroke="#000" stroke-width="0.6"/>
<circle cx="554.25" cy="199.85" r="0.9" fill="#fff"/>
<text x="554.85" y="189.16" font-size="10.7" text-anchor="middle" fill="#000">a</text>
<rect x="480.60" y="133.50" width="85.00" height="86.90" fill="none" stroke="#000" stroke-width="0.9"/>
<text x="477.30" y="226.21" font-size="9.2" text-anchor="end" fill="#000">0</text>
<text x="477.30" y="208.83" font-size="9.2" text-anchor="end" fill="#000">2</text>
<text x="477.30" y="191.45" font-size="9.2" text-anchor="end" fill="#000">4</text>
<text x="477.30" y="174.07" font-size="9.2" text-anchor="end" fill="#000">6</text>
<text x="477.30" y="156.69" font-size="9.2" text-anchor="end" fill="#000">8</text>
<text x="477.30" y="139.31" font-size="9.2" text-anchor="end" fill="#000">10</text>
<path d="M480.60 220.40h1.6M480.60 203.02h1.6M480.60 185.64h1.6M480.60 168.26h1.6M480.60 150.88h1.6M480.60 133.50h1.6M508.50 220.40v-2M536.50 220.40v-2" stroke="#000" stroke-width="0.8" fill="none"/>
<text x="464.80" y="177.95" font-size="10.7" text-anchor="middle" transform="rotate(-90 464.80 177.95)" fill="#000">Relative expression</text>
<text x="563.00" y="145.60" font-size="10.7" text-anchor="end" font-style="italic" fill="#000">JAZ10</text>
<text x="494.40" y="231.50" font-size="8.8" text-anchor="middle" fill="#000">Air</text>
<text x="523.20" y="231.50" font-size="8.8" text-anchor="middle" fill="#000">Sub</text>
<text x="554.80" y="231.50" font-size="8.8" text-anchor="middle" fill="#000">Sub</text>
<text x="554.80" y="240.70" font-size="8.8" text-anchor="middle" fill="#000">re-air</text>
<rect x="604.60" y="207.37" width="8.40" height="13.03" fill="#fff" stroke="#000" stroke-width="0.8"/>
<path d="M608.80 207.37V206.37M607.50 206.37H610.10" stroke="#000" stroke-width="0.85" fill="none"/>
<circle cx="608.80" cy="206.27" r="1.15" fill="#fff" stroke="#000" stroke-width="0.6"/>
<circle cx="609.40" cy="207.26" r="1.15" fill="#fff" stroke="#000" stroke-width="0.6"/>
<circle cx="608.20" cy="208.36" r="1.15" fill="#fff" stroke="#000" stroke-width="0.6"/>
<text x="608.80" y="204.27" font-size="10.7" text-anchor="middle" fill="#000">a</text>
<rect x="613.00" y="149.64" width="8.40" height="70.76" fill="#000" stroke="#000" stroke-width="0.8"/>
<path d="M617.20 149.64V142.19M615.90 142.19H618.50" stroke="#000" stroke-width="0.85" fill="none"/>
<circle cx="617.20" cy="140.95" r="1.15" fill="#fff" stroke="#000" stroke-width="0.6"/>
<circle cx="617.80" cy="143.43" r="1.15" fill="#fff" stroke="#000" stroke-width="0.6"/>
<circle cx="616.60" cy="160.81" r="0.9" fill="#fff"/>
<text x="612.70" y="144.75" font-size="10.7" text-anchor="end" fill="#000">b</text>
<rect x="632.60" y="197.68" width="8.40" height="22.72" fill="#fff" stroke="#000" stroke-width="0.8"/>
<path d="M636.80 197.68V196.19M635.50 196.19H638.10" stroke="#000" stroke-width="0.85" fill="none"/>
<circle cx="636.80" cy="196.12" r="1.15" fill="#fff" stroke="#000" stroke-width="0.6"/>
<circle cx="637.40" cy="197.53" r="1.15" fill="#fff" stroke="#000" stroke-width="0.6"/>
<circle cx="636.20" cy="199.10" r="1.15" fill="#fff" stroke="#000" stroke-width="0.6"/>
<text x="636.80" y="194.12" font-size="10.7" text-anchor="middle" fill="#000">a</text>
<rect x="641.00" y="197.68" width="8.40" height="22.72" fill="#000" stroke="#000" stroke-width="0.8"/>
<path d="M645.20 197.68V195.82M643.90 195.82H646.50" stroke="#000" stroke-width="0.85" fill="none"/>
<circle cx="645.20" cy="195.73" r="1.15" fill="#fff" stroke="#000" stroke-width="0.6"/>
<circle cx="645.80" cy="197.50" r="1.15" fill="#fff" stroke="#000" stroke-width="0.6"/>
<circle cx="644.60" cy="199.45" r="0.9" fill="#fff"/>
<text x="645.20" y="193.73" font-size="10.7" text-anchor="middle" fill="#000">a</text>
<rect x="660.90" y="195.57" width="8.40" height="24.83" fill="#fff" stroke="#000" stroke-width="0.8"/>
<path d="M665.10 195.57V193.09M663.80 193.09H666.40" stroke="#000" stroke-width="0.85" fill="none"/>
<circle cx="665.10" cy="192.96" r="1.15" fill="#fff" stroke="#000" stroke-width="0.6"/>
<circle cx="665.70" cy="195.32" r="1.15" fill="#fff" stroke="#000" stroke-width="0.6"/>
<circle cx="664.50" cy="197.93" r="1.15" fill="#fff" stroke="#000" stroke-width="0.6"/>
<text x="665.10" y="190.96" font-size="10.7" text-anchor="middle" fill="#000">a</text>
<rect x="669.30" y="190.61" width="8.40" height="29.79" fill="#000" stroke="#000" stroke-width="0.8"/>
<path d="M673.50 190.61V183.16M672.20 183.16H674.80" stroke="#000" stroke-width="0.85" fill="none"/>
<circle cx="673.50" cy="182.78" r="1.15" fill="#fff" stroke="#000" stroke-width="0.6"/>
<circle cx="674.10" cy="189.86" r="1.15" fill="#fff" stroke="#000" stroke-width="0.6"/>
<circle cx="672.90" cy="197.68" r="0.9" fill="#fff"/>
<text x="673.50" y="180.78" font-size="10.7" text-anchor="middle" fill="#000">a</text>
<rect x="599.00" y="133.50" width="83.60" height="86.90" fill="none" stroke="#000" stroke-width="0.9"/>
<text x="595.70" y="226.21" font-size="9.2" text-anchor="end" fill="#000">0</text>
<text x="595.70" y="213.80" font-size="9.2" text-anchor="end" fill="#000">1</text>
<text x="595.70" y="201.38" font-size="9.2" text-anchor="end" fill="#000">2</text>
<text x="595.70" y="188.97" font-size="9.2" text-anchor="end" fill="#000">3</text>
<text x="595.70" y="176.55" font-size="9.2" text-anchor="end" fill="#000">4</text>
<text x="595.70" y="164.14" font-size="9.2" text-anchor="end" fill="#000">5</text>
<text x="595.70" y="151.73" font-size="9.2" text-anchor="end" fill="#000">6</text>
<text x="595.70" y="139.31" font-size="9.2" text-anchor="end" fill="#000">7</text>
<path d="M599.00 220.40h1.6M599.00 207.99h1.6M599.00 195.57h1.6M599.00 183.16h1.6M599.00 170.74h1.6M599.00 158.33h1.6M599.00 145.91h1.6M599.00 133.50h1.6M627.00 220.40v-2M655.00 220.40v-2" stroke="#000" stroke-width="0.8" fill="none"/>
<text x="583.60" y="177.95" font-size="10.7" text-anchor="middle" transform="rotate(-90 583.60 177.95)" fill="#000">Relative expression</text>
<text x="680.00" y="145.60" font-size="10.7" text-anchor="end" font-style="italic" fill="#000">OPR3</text>
<text x="613.00" y="231.50" font-size="8.8" text-anchor="middle" fill="#000">Air</text>
<text x="641.80" y="231.50" font-size="8.8" text-anchor="middle" fill="#000">Sub</text>
<text x="673.50" y="231.50" font-size="8.8" text-anchor="middle" fill="#000">Sub</text>
<text x="673.50" y="240.70" font-size="8.8" text-anchor="middle" fill="#000">re-air</text>
<g transform="translate(75.61 252.60)">
<g transform="scale(0.9742 1)">
<g clip-path="url(#tubeclip)">
<rect x="0" y="23.3" width="24" height="10" fill="#0a9de6"/>
</g>
<path d="M0.9 0C0.9 10 1.2 18 2.4 23.5C3.8 28.8 7.2 32.4 12.1 32.4C17 32.4 20.4 28.8 21.8 23.5C23 18 23.3 10 23.3 0" fill="none" stroke="url(#tg)" stroke-width="0.9"/>
<use href="#plant"/>
</g>
</g>
<g transform="translate(102.41 252.60)">
<g transform="scale(0.9742 1)">
<g clip-path="url(#tubeclip)">
<rect x="0" y="23.3" width="24" height="10" fill="#0a9de6"/>
</g>
<path d="M0.9 0C0.9 10 1.2 18 2.4 23.5C3.8 28.8 7.2 32.4 12.1 32.4C17 32.4 20.4 28.8 21.8 23.5C23 18 23.3 10 23.3 0" fill="none" stroke="url(#tg)" stroke-width="0.9"/>
<use href="#plant"/>
</g>
</g>
<path d="M128.20 268.40H132.70" stroke="#3a3a3a" stroke-width="0.8" fill="none"/>
<path d="M140.20 268.40L131.70 263.70V273.10Z" fill="#000"/>
<g transform="translate(141.41 252.60)">
<g transform="scale(0.9742 1)">
<g clip-path="url(#tubeclip)">
<rect x="0" y="23.3" width="24" height="10" fill="#0a9de6"/>
</g>
<path d="M0.9 0C0.9 10 1.2 18 2.4 23.5C3.8 28.8 7.2 32.4 12.1 32.4C17 32.4 20.4 28.8 21.8 23.5C23 18 23.3 10 23.3 0" fill="none" stroke="url(#tg)" stroke-width="0.9"/>
<use href="#plant"/>
</g>
</g>
<g transform="translate(168.51 252.60)">
<g transform="scale(0.9742 1)">
<g clip-path="url(#tubeclip)">
<rect x="0" y="23.3" width="24" height="10" fill="#0a9de6"/>
</g>
<path d="M0.9 0C0.9 10 1.2 18 2.4 23.5C3.8 28.8 7.2 32.4 12.1 32.4C17 32.4 20.4 28.8 21.8 23.5C23 18 23.3 10 23.3 0" fill="none" stroke="url(#tg)" stroke-width="0.9"/>
<use href="#plant"/>
</g>
</g>
<path d="M194.20 268.40H198.70" stroke="#3a3a3a" stroke-width="0.8" fill="none"/>
<path d="M206.20 268.40L197.70 263.70V273.10Z" fill="#000"/>
<g transform="translate(206.91 252.60)">
<g transform="scale(0.9742 1)">
<g clip-path="url(#tubeclip)">
<rect x="0" y="23.3" width="24" height="10" fill="#0a9de6"/>
</g>
<path d="M0.9 0C0.9 10 1.2 18 2.4 23.5C3.8 28.8 7.2 32.4 12.1 32.4C17 32.4 20.4 28.8 21.8 23.5C23 18 23.3 10 23.3 0" fill="none" stroke="url(#tg)" stroke-width="0.9"/>
<use href="#plant"/>
</g>
</g>
<g transform="translate(233.21 252.60)">
<g transform="scale(0.9742 1)">
<g clip-path="url(#tubeclip)">
<rect x="0" y="23.3" width="24" height="10" fill="#0a9de6"/>
</g>
<path d="M0.9 0C0.9 10 1.2 18 2.4 23.5C3.8 28.8 7.2 32.4 12.1 32.4C17 32.4 20.4 28.8 21.8 23.5C23 18 23.3 10 23.3 0" fill="none" stroke="url(#tg)" stroke-width="0.9"/>
<use href="#plantw"/>
</g>
</g>
<g transform="translate(75.61 293.00)">
<g transform="scale(0.9742 1)">
<g clip-path="url(#tubeclip)">
<rect x="0" y="23.3" width="24" height="10" fill="#0a9de6"/>
</g>
<path d="M0.9 0C0.9 10 1.2 18 2.4 23.5C3.8 28.8 7.2 32.4 12.1 32.4C17 32.4 20.4 28.8 21.8 23.5C23 18 23.3 10 23.3 0" fill="none" stroke="url(#tg)" stroke-width="0.9"/>
<use href="#plant"/>
</g>
</g>
<g transform="translate(102.41 293.00)">
<g transform="scale(0.9742 1)">
<g clip-path="url(#tubeclip)">
<rect x="0" y="23.3" width="24" height="10" fill="#0a9de6"/>
</g>
<path d="M0.9 0C0.9 10 1.2 18 2.4 23.5C3.8 28.8 7.2 32.4 12.1 32.4C17 32.4 20.4 28.8 21.8 23.5C23 18 23.3 10 23.3 0" fill="none" stroke="url(#tg)" stroke-width="0.9"/>
<use href="#plant"/>
</g>
</g>
<path d="M128.20 308.80H132.70" stroke="#3a3a3a" stroke-width="0.8" fill="none"/>
<path d="M140.20 308.80L131.70 304.10V313.50Z" fill="#000"/>
<g transform="translate(141.41 293.00)">
<g transform="scale(0.9742 1)">
<g clip-path="url(#tubeclip)">
<rect x="0" y="4.4" width="24" height="30" fill="#9edaf7"/>
<rect x="0" y="23.3" width="24" height="10" fill="#0a9de6"/>
</g>
<path d="M0.9 0C0.9 10 1.2 18 2.4 23.5C3.8 28.8 7.2 32.4 12.1 32.4C17 32.4 20.4 28.8 21.8 23.5C23 18 23.3 10 23.3 0" fill="none" stroke="url(#tg)" stroke-width="0.9"/>
<use href="#plant"/>
</g>
</g>
<g transform="translate(168.51 293.00)">
<g transform="scale(0.9742 1)">
<g clip-path="url(#tubeclip)">
<rect x="0" y="4.4" width="24" height="30" fill="#9edaf7"/>
<rect x="0" y="23.3" width="24" height="10" fill="#0a9de6"/>
</g>
<path d="M0.9 0C0.9 10 1.2 18 2.4 23.5C3.8 28.8 7.2 32.4 12.1 32.4C17 32.4 20.4 28.8 21.8 23.5C23 18 23.3 10 23.3 0" fill="none" stroke="url(#tg)" stroke-width="0.9"/>
<use href="#plant"/>
</g>
</g>
<path d="M194.20 308.80H198.70" stroke="#3a3a3a" stroke-width="0.8" fill="none"/>
<path d="M206.20 308.80L197.70 304.10V313.50Z" fill="#000"/>
<g transform="translate(206.91 293.00)">
<g transform="scale(0.9742 1)">
<g clip-path="url(#tubeclip)">
<rect x="0" y="23.3" width="24" height="10" fill="#0a9de6"/>
</g>
<path d="M0.9 0C0.9 10 1.2 18 2.4 23.5C3.8 28.8 7.2 32.4 12.1 32.4C17 32.4 20.4 28.8 21.8 23.5C23 18 23.3 10 23.3 0" fill="none" stroke="url(#tg)" stroke-width="0.9"/>
<use href="#plant"/>
</g>
</g>
<g transform="translate(233.21 293.00)">
<g transform="scale(0.9742 1)">
<g clip-path="url(#tubeclip)">
<rect x="0" y="23.3" width="24" height="10" fill="#0a9de6"/>
</g>
<path d="M0.9 0C0.9 10 1.2 18 2.4 23.5C3.8 28.8 7.2 32.4 12.1 32.4C17 32.4 20.4 28.8 21.8 23.5C23 18 23.3 10 23.3 0" fill="none" stroke="url(#tg)" stroke-width="0.9"/>
<use href="#plantw"/>
</g>
</g>
<text x="261.30" y="271.80" font-size="9.3" text-anchor="start" fill="#000">Air</text>
<text x="261.30" y="312.60" font-size="9.3" text-anchor="start" fill="#000">Sub</text>
<text x="215.20" y="333.80" font-size="9.3" text-anchor="middle" fill="#000">Mock</text>
<text x="245.80" y="334.40" font-size="9.3" text-anchor="middle" fill="#000">Wound</text>
<rect x="9.30" y="309.80" width="47.50" height="27.80" fill="#fff" stroke="#000" stroke-width="0.8"/>
<rect x="12.50" y="315.20" width="6.2" height="6.2" fill="#fff" stroke="#000" stroke-width="0.7"/>
<text x="21.60" y="321.80" font-size="10.7" text-anchor="start" fill="#000">Mock</text>
<rect x="12.50" y="328.00" width="6.2" height="6.2" fill="#000" stroke="#000" stroke-width="0.7"/>
<text x="21.60" y="334.60" font-size="10.7" text-anchor="start" fill="#000">Wound</text>
<rect x="36.40" y="424.59" width="10.60" height="8.31" fill="#fff" stroke="#000" stroke-width="0.8"/>
<path d="M41.70 424.59V422.84M40.40 422.84H43.00" stroke="#000" stroke-width="0.85" fill="none"/>
<circle cx="41.70" cy="422.75" r="1.15" fill="#fff" stroke="#000" stroke-width="0.6"/>
<circle cx="42.30" cy="424.41" r="1.15" fill="#fff" stroke="#000" stroke-width="0.6"/>
<circle cx="41.10" cy="426.25" r="1.15" fill="#fff" stroke="#000" stroke-width="0.6"/>
<text x="41.70" y="420.75" font-size="10.7" text-anchor="middle" fill="#000">a</text>
<rect x="47.00" y="358.52" width="10.60" height="74.38" fill="#000" stroke="#000" stroke-width="0.8"/>
<path d="M52.30 358.52V353.27M51.00 353.27H53.60" stroke="#000" stroke-width="0.85" fill="none"/>
<circle cx="52.30" cy="353.01" r="1.15" fill="#fff" stroke="#000" stroke-width="0.6"/>
<circle cx="52.90" cy="358.00" r="1.15" fill="#fff" stroke="#000" stroke-width="0.6"/>
<circle cx="51.70" cy="363.51" r="0.9" fill="#fff"/>
<text x="46.70" y="357.81" font-size="10.7" text-anchor="end" fill="#000">b</text>
<rect x="72.70" y="427.65" width="10.60" height="5.25" fill="#fff" stroke="#000" stroke-width="0.8"/>
<path d="M78.00 427.65V425.02M76.70 425.02H79.30" stroke="#000" stroke-width="0.85" fill="none"/>
<circle cx="78.00" cy="424.89" r="1.15" fill="#fff" stroke="#000" stroke-width="0.6"/>
<circle cx="78.60" cy="427.39" r="1.15" fill="#fff" stroke="#000" stroke-width="0.6"/>
<circle cx="77.40" cy="430.14" r="1.15" fill="#fff" stroke="#000" stroke-width="0.6"/>
<text x="78.00" y="422.89" font-size="10.7" text-anchor="middle" fill="#000">a</text>
<rect x="83.30" y="410.32" width="10.60" height="22.57" fill="#000" stroke="#000" stroke-width="0.8"/>
<path d="M88.60 410.32V408.14M87.30 408.14H89.90" stroke="#000" stroke-width="0.85" fill="none"/>
<circle cx="88.60" cy="408.03" r="1.15" fill="#fff" stroke="#000" stroke-width="0.6"/>
<circle cx="89.20" cy="410.11" r="1.15" fill="#fff" stroke="#000" stroke-width="0.6"/>
<circle cx="88.00" cy="412.40" r="0.9" fill="#fff"/>
<text x="88.60" y="406.03" font-size="10.7" text-anchor="middle" fill="#000">c</text>
<rect x="28.60" y="345.40" width="73.60" height="87.50" fill="none" stroke="#000" stroke-width="0.9"/>
<text x="27.00" y="437.81" font-size="9.2" text-anchor="end" fill="#000">0</text>
<text x="27.00" y="420.31" font-size="9.2" text-anchor="end" fill="#000">2</text>
<text x="27.00" y="402.81" font-size="9.2" text-anchor="end" fill="#000">4</text>
<text x="27.00" y="385.31" font-size="9.2" text-anchor="end" fill="#000">6</text>
<text x="27.00" y="367.81" font-size="9.2" text-anchor="end" fill="#000">8</text>
<text x="27.00" y="350.31" font-size="9.2" text-anchor="end" fill="#000">10</text>
<path d="M28.60 432.90h1.6M28.60 415.40h1.6M28.60 397.90h1.6M28.60 380.40h1.6M28.60 362.90h1.6M28.60 345.40h1.6M65.20 432.90v-2" stroke="#000" stroke-width="0.8" fill="none"/>
<text x="15.60" y="390.15" font-size="10.7" text-anchor="middle" transform="rotate(-90 15.60 390.15)" fill="#000">Relative expression</text>
<text x="99.60" y="357.50" font-size="10.7" text-anchor="end" font-style="italic" fill="#000">JAZ7</text>
<text x="47.00" y="445.60" font-size="10.7" text-anchor="middle" fill="#000">Air</text>
<text x="83.30" y="445.60" font-size="10.7" text-anchor="middle" fill="#000">Sub</text>
<rect x="140.30" y="430.97" width="10.70" height="1.93" fill="#fff" stroke="#000" stroke-width="0.8"/>
<path d="M145.65 430.97V430.10M144.35 430.10H146.95" stroke="#000" stroke-width="0.85" fill="none"/>
<circle cx="145.65" cy="429.87" r="1.15" fill="#fff" stroke="#000" stroke-width="0.6"/>
<circle cx="146.25" cy="430.87" r="1.15" fill="#fff" stroke="#000" stroke-width="0.6"/>
<circle cx="145.05" cy="431.97" r="1.15" fill="#fff" stroke="#000" stroke-width="0.6"/>
<text x="145.65" y="427.87" font-size="10.7" text-anchor="middle" fill="#000">a</text>
<rect x="151.00" y="361.15" width="10.70" height="71.75" fill="#000" stroke="#000" stroke-width="0.8"/>
<path d="M156.35 361.15V355.02M155.05 355.02H157.65" stroke="#000" stroke-width="0.85" fill="none"/>
<circle cx="156.35" cy="354.72" r="1.15" fill="#fff" stroke="#000" stroke-width="0.6"/>
<circle cx="156.95" cy="360.54" r="1.15" fill="#fff" stroke="#000" stroke-width="0.6"/>
<circle cx="155.75" cy="366.97" r="0.9" fill="#fff"/>
<text x="150.70" y="358.52" font-size="10.7" text-anchor="end" fill="#000">b</text>
<rect x="176.70" y="431.15" width="10.70" height="1.75" fill="#fff" stroke="#000" stroke-width="0.8"/>
<path d="M182.05 431.15V430.45M180.75 430.45H183.35" stroke="#000" stroke-width="0.85" fill="none"/>
<circle cx="182.05" cy="430.05" r="1.15" fill="#fff" stroke="#000" stroke-width="0.6"/>
<circle cx="182.65" cy="431.04" r="1.15" fill="#fff" stroke="#000" stroke-width="0.6"/>
<circle cx="181.45" cy="432.15" r="1.15" fill="#fff" stroke="#000" stroke-width="0.6"/>
<text x="182.05" y="428.05" font-size="10.7" text-anchor="middle" fill="#000">a</text>
<rect x="187.40" y="423.27" width="10.70" height="9.62" fill="#000" stroke="#000" stroke-width="0.8"/>
<path d="M192.75 423.27V421.52M191.45 421.52H194.05" stroke="#000" stroke-width="0.85" fill="none"/>
<circle cx="192.75" cy="421.44" r="1.15" fill="#fff" stroke="#000" stroke-width="0.6"/>
<circle cx="193.35" cy="423.10" r="1.15" fill="#fff" stroke="#000" stroke-width="0.6"/>
<circle cx="192.15" cy="424.94" r="0.9" fill="#fff"/>
<text x="192.75" y="419.44" font-size="10.7" text-anchor="middle" fill="#000">c</text>
<rect x="132.40" y="345.40" width="73.00" height="87.50" fill="none" stroke="#000" stroke-width="0.9"/>
<text x="130.80" y="437.81" font-size="9.2" text-anchor="end" fill="#000">0</text>
<text x="130.80" y="420.31" font-size="9.2" text-anchor="end" fill="#000">10</text>
<text x="130.80" y="402.81" font-size="9.2" text-anchor="end" fill="#000">20</text>
<text x="130.80" y="385.31" font-size="9.2" text-anchor="end" fill="#000">30</text>
<text x="130.80" y="367.81" font-size="9.2" text-anchor="end" fill="#000">40</text>
<text x="130.80" y="350.31" font-size="9.2" text-anchor="end" fill="#000">50</text>
<path d="M132.40 432.90h1.6M132.40 415.40h1.6M132.40 397.90h1.6M132.40 380.40h1.6M132.40 362.90h1.6M132.40 345.40h1.6M169.00 432.90v-2" stroke="#000" stroke-width="0.8" fill="none"/>
<text x="115.80" y="390.15" font-size="10.7" text-anchor="middle" transform="rotate(-90 115.80 390.15)" fill="#000">Relative expression</text>
<text x="202.80" y="357.50" font-size="10.7" text-anchor="end" font-style="italic" fill="#000">JAZ10</text>
<text x="151.00" y="445.60" font-size="10.7" text-anchor="middle" fill="#000">Air</text>
<text x="187.40" y="445.60" font-size="10.7" text-anchor="middle" fill="#000">Sub</text>
<rect x="243.60" y="429.69" width="10.90" height="3.21" fill="#fff" stroke="#000" stroke-width="0.8"/>
<path d="M249.05 429.69V428.82M247.75 428.82H250.35" stroke="#000" stroke-width="0.85" fill="none"/>
<circle cx="249.05" cy="428.59" r="1.15" fill="#fff" stroke="#000" stroke-width="0.6"/>
<circle cx="249.65" cy="429.59" r="1.15" fill="#fff" stroke="#000" stroke-width="0.6"/>
<circle cx="248.45" cy="430.69" r="1.15" fill="#fff" stroke="#000" stroke-width="0.6"/>
<text x="249.05" y="426.59" font-size="10.7" text-anchor="middle" fill="#000">a</text>
<rect x="254.50" y="364.36" width="10.90" height="68.54" fill="#000" stroke="#000" stroke-width="0.8"/>
<path d="M259.95 364.36V359.98M258.65 359.98H261.25" stroke="#000" stroke-width="0.85" fill="none"/>
<circle cx="259.95" cy="359.76" r="1.15" fill="#fff" stroke="#000" stroke-width="0.6"/>
<circle cx="260.55" cy="363.92" r="1.15" fill="#fff" stroke="#000" stroke-width="0.6"/>
<circle cx="259.35" cy="368.51" r="0.9" fill="#fff"/>
<text x="259.95" y="357.76" font-size="10.7" text-anchor="middle" fill="#000">b</text>
<rect x="280.10" y="430.86" width="10.90" height="2.04" fill="#fff" stroke="#000" stroke-width="0.8"/>
<path d="M285.55 430.86V429.69M284.25 429.69H286.85" stroke="#000" stroke-width="0.85" fill="none"/>
<circle cx="285.55" cy="429.63" r="1.15" fill="#fff" stroke="#000" stroke-width="0.6"/>
<circle cx="286.15" cy="430.74" r="1.15" fill="#fff" stroke="#000" stroke-width="0.6"/>
<circle cx="284.95" cy="431.97" r="1.15" fill="#fff" stroke="#000" stroke-width="0.6"/>
<text x="285.55" y="427.63" font-size="10.7" text-anchor="middle" fill="#000">a</text>
<rect x="291.00" y="420.36" width="10.90" height="12.54" fill="#000" stroke="#000" stroke-width="0.8"/>
<path d="M296.45 420.36V418.61M295.15 418.61H297.75" stroke="#000" stroke-width="0.85" fill="none"/>
<circle cx="296.45" cy="418.52" r="1.15" fill="#fff" stroke="#000" stroke-width="0.6"/>
<circle cx="297.05" cy="420.18" r="1.15" fill="#fff" stroke="#000" stroke-width="0.6"/>
<circle cx="295.85" cy="422.02" r="0.9" fill="#fff"/>
<text x="296.45" y="416.52" font-size="10.7" text-anchor="middle" fill="#000">c</text>
<rect x="236.20" y="345.40" width="73.40" height="87.50" fill="none" stroke="#000" stroke-width="0.9"/>
<text x="234.60" y="437.81" font-size="9.2" text-anchor="end" fill="#000">0</text>
<text x="234.60" y="408.65" font-size="9.2" text-anchor="end" fill="#000">10</text>
<text x="234.60" y="379.48" font-size="9.2" text-anchor="end" fill="#000">20</text>
<text x="234.60" y="350.31" font-size="9.2" text-anchor="end" fill="#000">30</text>
<path d="M236.20 432.90h1.6M236.20 403.73h1.6M236.20 374.57h1.6M236.20 345.40h1.6M273.00 432.90v-2" stroke="#000" stroke-width="0.8" fill="none"/>
<text x="219.80" y="390.15" font-size="10.7" text-anchor="middle" transform="rotate(-90 219.80 390.15)" fill="#000">Relative expression</text>
<text x="307.00" y="357.50" font-size="10.7" text-anchor="end" font-style="italic" fill="#000">OPR3</text>
<text x="254.50" y="445.60" font-size="10.7" text-anchor="middle" fill="#000">Air</text>
<text x="291.00" y="445.60" font-size="10.7" text-anchor="middle" fill="#000">Sub</text>
<defs>
<filter id="bl1" x="-20%" y="-20%" width="140%" height="140%"><feGaussianBlur stdDeviation="6"/></filter>
<filter id="bl2" x="-20%" y="-20%" width="140%" height="140%"><feGaussianBlur stdDeviation="14"/></filter>
<filter id="bl3" x="-20%" y="-20%" width="140%" height="140%"><feGaussianBlur stdDeviation="2.5"/></filter>
<filter id="bl4" x="-30%" y="-30%" width="160%" height="160%"><feGaussianBlur stdDeviation="24"/></filter>
<filter id="nzd" x="0" y="0" width="100%" height="100%"><feTurbulence type="fractalNoise" baseFrequency="0.018" numOctaves="3" seed="7"/><feColorMatrix values="0 0 0 0 0.06  0 0 0 0 0.30  0 0 0 0 0.62  0 0 0 3.4 -1.25"/><feGaussianBlur stdDeviation="2"/></filter>
<filter id="nzl" x="0" y="0" width="100%" height="100%"><feTurbulence type="fractalNoise" baseFrequency="0.025" numOctaves="3" seed="11"/><feColorMatrix values="0 0 0 0 0.90  0 0 0 0 0.97  0 0 0 0 1  0 0 0 3.0 -1.25"/><feGaussianBlur stdDeviation="3"/></filter>
<filter id="nzc" x="0" y="0" width="100%" height="100%"><feTurbulence type="fractalNoise" baseFrequency="0.03" numOctaves="2" seed="5"/><feColorMatrix values="0 0 0 0 0.25  0 0 0 0 0.70  0 0 0 0 0.86  0 0 0 2.6 -1.2"/><feGaussianBlur stdDeviation="3"/></filter>
</defs>
<defs><clipPath id="leaf1c"><path d="M20.0 150.0C35.0 139.2 81.7 167.5 110.0 160.0C138.3 152.5 156.7 116.3 190.0 105.0C223.3 93.7 268.3 84.5 310.0 92.0C351.7 99.5 405.8 125.3 440.0 150.0C474.2 174.7 497.5 208.3 515.0 240.0C532.5 271.7 545.8 311.7 545.0 340.0C544.2 368.3 530.8 387.0 510.0 410.0C489.2 433.0 453.3 464.3 420.0 478.0C386.7 491.7 346.7 497.5 310.0 492.0C273.3 486.5 232.5 465.3 200.0 445.0C167.5 424.7 134.2 396.7 115.0 370.0C95.8 343.3 92.5 306.7 85.0 285.0C77.5 263.3 80.8 250.0 70.0 240.0C59.2 230.0 28.3 240.0 20.0 225.0C11.7 210.0 5.0 160.8 20.0 150.0Z"/></clipPath></defs>
<clipPath id="pc1"><rect x="347.3" y="273.3" width="84.19999999999999" height="76.0"/></clipPath>
<g clip-path="url(#pc1)">
<rect x="347.3" y="273.3" width="84.19999999999999" height="76.0" fill="#f1fbff"/>
<g transform="translate(345 271) scale(0.13477)">

<path d="M0 0H60C85 35 85 95 35 135L0 150Z" fill="#35a5cf" filter="url(#bl3)"/>
<path d="M0 0H40C55 40 50 80 15 115L0 125Z" fill="#1b7db4" filter="url(#bl1)"/>
<path d="M20.0 150.0C35.0 139.2 81.7 167.5 110.0 160.0C138.3 152.5 156.7 116.3 190.0 105.0C223.3 93.7 268.3 84.5 310.0 92.0C351.7 99.5 405.8 125.3 440.0 150.0C474.2 174.7 497.5 208.3 515.0 240.0C532.5 271.7 545.8 311.7 545.0 340.0C544.2 368.3 530.8 387.0 510.0 410.0C489.2 433.0 453.3 464.3 420.0 478.0C386.7 491.7 346.7 497.5 310.0 492.0C273.3 486.5 232.5 465.3 200.0 445.0C167.5 424.7 134.2 396.7 115.0 370.0C95.8 343.3 92.5 306.7 85.0 285.0C77.5 263.3 80.8 250.0 70.0 240.0C59.2 230.0 28.3 240.0 20.0 225.0C11.7 210.0 5.0 160.8 20.0 150.0Z" fill="#a8e0ea"/>
<g clip-path="url(#leaf1c)">
<path d="M20.0 150.0C35.0 139.2 81.7 167.5 110.0 160.0C138.3 152.5 156.7 116.3 190.0 105.0C223.3 93.7 268.3 84.5 310.0 92.0C351.7 99.5 405.8 125.3 440.0 150.0C474.2 174.7 497.5 208.3 515.0 240.0C532.5 271.7 545.8 311.7 545.0 340.0C544.2 368.3 530.8 387.0 510.0 410.0C489.2 433.0 453.3 464.3 420.0 478.0C386.7 491.7 346.7 497.5 310.0 492.0C273.3 486.5 232.5 465.3 200.0 445.0C167.5 424.7 134.2 396.7 115.0 370.0C95.8 343.3 92.5 306.7 85.0 285.0C77.5 263.3 80.8 250.0 70.0 240.0C59.2 230.0 28.3 240.0 20.0 225.0C11.7 210.0 5.0 160.8 20.0 150.0Z" fill="none" stroke="#3cb7d4" stroke-width="62" filter="url(#bl2)"/>
<ellipse cx="330" cy="290" rx="120" ry="90" fill="#c5ebf4" filter="url(#bl2)" opacity="0.8"/>
<ellipse cx="180" cy="420" rx="60" ry="30" fill="#c5ebf4" filter="url(#bl2)" opacity="0.6"/>
<rect x="0" y="60" width="600" height="470" filter="url(#nzl)" opacity="0.55"/>
<rect x="0" y="60" width="600" height="470" filter="url(#nzc)" opacity="0.35"/>
<path d="M0 150C60 160 110 185 180 225L120 222C80 220 40 228 0 228Z" fill="#1f80b8" filter="url(#bl1)"/>
<path d="M20 190C110 215 190 235 260 275S400 330 480 372" stroke="#1e82b0" stroke-width="3.6" fill="none" filter="url(#bl3)" opacity="0.85" stroke-linecap="round"/>
<path d="M130 195C200 140 330 130 400 190S480 330 480 372" stroke="#2a8fb8" stroke-width="3.5" fill="none" filter="url(#bl3)" opacity="0.85" stroke-linecap="round"/>
<path d="M200 250C250 300 260 360 220 400S160 360 150 320" stroke="#2a8fb8" stroke-width="3.5" fill="none" filter="url(#bl3)" opacity="0.85" stroke-linecap="round"/>
<path d="M240 268C300 240 400 250 450 300" stroke="#2a8fb8" stroke-width="3" fill="none" filter="url(#bl3)" opacity="0.75" stroke-linecap="round"/>
<path d="M250 392C330 432 430 422 480 372" stroke="#2a8fb8" stroke-width="3" fill="none" filter="url(#bl3)" opacity="0.75" stroke-linecap="round"/>
<path d="M300 150C320 200 330 240 330 300" stroke="#2a8fb8" stroke-width="2.5" fill="none" filter="url(#bl3)" opacity="0.6" stroke-linecap="round"/>
<circle cx="482" cy="372" r="9" fill="#124f8a" filter="url(#bl3)"/>
<path d="M20.0 150.0C35.0 139.2 81.7 167.5 110.0 160.0C138.3 152.5 156.7 116.3 190.0 105.0C223.3 93.7 268.3 84.5 310.0 92.0C351.7 99.5 405.8 125.3 440.0 150.0C474.2 174.7 497.5 208.3 515.0 240.0C532.5 271.7 545.8 311.7 545.0 340.0C544.2 368.3 530.8 387.0 510.0 410.0C489.2 433.0 453.3 464.3 420.0 478.0C386.7 491.7 346.7 497.5 310.0 492.0C273.3 486.5 232.5 465.3 200.0 445.0C167.5 424.7 134.2 396.7 115.0 370.0C95.8 343.3 92.5 306.7 85.0 285.0C77.5 263.3 80.8 250.0 70.0 240.0C59.2 230.0 28.3 240.0 20.0 225.0C11.7 210.0 5.0 160.8 20.0 150.0Z" fill="none" stroke="#2fa9d0" stroke-width="8" filter="url(#bl3)" opacity="0.8"/>
</g>

</g></g>
<rect x="347.3" y="273.3" width="84.19999999999999" height="76.0" fill="none" stroke="#2a2a2a" stroke-width="0.9"/>
<path d="M424.40 319.10V342.70" stroke="#1a1a1a" stroke-width="0.9"/>
<text x="429.50" y="284.50" font-size="11" text-anchor="end" fill="#111">Air Mock</text>
<defs><clipPath id="leaf2c"><path d="M350 88C420 88 490 120 525 175C550 215 562 280 560 340C558 370 552 400 545 422C500 402 450 378 400 352L262 270L258 286L400 388L440 420L478 468C455 492 420 508 380 516C330 526 280 520 245 512C230 520 222 540 190 600H115C140 560 165 530 172 500C172 480 166 462 155 445C120 400 100 350 100 300C100 230 135 165 190 130C235 102 290 88 350 88Z"/></clipPath></defs>
<clipPath id="pc2"><rect x="439.4" y="273.3" width="84.60000000000002" height="76.0"/></clipPath>
<g clip-path="url(#pc2)">
<rect x="439.4" y="273.3" width="84.60000000000002" height="76.0" fill="#f1fbff"/>
<g transform="translate(437 271) scale(0.13477)">

<path d="M350 88C420 88 490 120 525 175C550 215 562 280 560 340C558 370 552 400 545 422C500 402 450 378 400 352L262 270L258 286L400 388L440 420L478 468C455 492 420 508 380 516C330 526 280 520 245 512C230 520 222 540 190 600H115C140 560 165 530 172 500C172 480 166 462 155 445C120 400 100 350 100 300C100 230 135 165 190 130C235 102 290 88 350 88Z" fill="#1a76c2"/>
<g clip-path="url(#leaf2c)">
<ellipse cx="430" cy="270" rx="115" ry="110" fill="#34afe0" filter="url(#bl4)"/>
<ellipse cx="330" cy="210" rx="60" ry="50" fill="#3dbbe6" filter="url(#bl2)"/>
<ellipse cx="470" cy="370" rx="50" ry="40" fill="#45c3ec" filter="url(#bl2)"/>
<ellipse cx="170" cy="330" rx="75" ry="160" fill="#125ca8" filter="url(#bl4)" opacity="0.95"/>
<ellipse cx="300" cy="470" rx="120" ry="50" fill="#1a78c0" filter="url(#bl4)" opacity="0.8"/>
<ellipse cx="330" cy="120" rx="160" ry="35" fill="#1668b2" filter="url(#bl2)" opacity="0.8"/>
<path d="M150 600C190 520 215 480 250 430S300 350 300 300" stroke="#0e4f90" stroke-width="9" fill="none" filter="url(#bl3)" opacity="1.0" stroke-linecap="round"/>
<path d="M110 600L172 495L235 515L190 600Z" fill="#0a3572" filter="url(#bl3)"/>
<path d="M250 300C240 230 270 170 340 150S470 180 480 260S450 340 440 350" stroke="#0e4f96" stroke-width="7" fill="none" filter="url(#bl3)" opacity="1.0" stroke-linecap="round"/>
<path d="M400 190C370 250 360 290 350 310" stroke="#0f5aa0" stroke-width="5" fill="none" filter="url(#bl3)" opacity="1.0" stroke-linecap="round"/>
<path d="M160 260C150 320 190 380 250 420" stroke="#0f5aa0" stroke-width="6" fill="none" filter="url(#bl3)" opacity="1.0" stroke-linecap="round"/>
<path d="M160 260C180 220 220 200 250 190" stroke="#0f5aa0" stroke-width="5" fill="none" filter="url(#bl3)" opacity="1.0" stroke-linecap="round"/>
<path d="M270 440C300 400 330 380 360 370M330 470C360 440 400 430 430 440" stroke="#0f5aa0" stroke-width="4" fill="none" filter="url(#bl3)" opacity="1.0" stroke-linecap="round"/>
<rect x="60" y="60" width="540" height="560" filter="url(#nzd)" opacity="0.75"/>
</g>
<path d="M250 264L300 282L340 322L290 306Z" fill="#eaf9fe" filter="url(#bl3)"/>

</g></g>
<rect x="439.4" y="273.3" width="84.60000000000002" height="76.0" fill="none" stroke="#2a2a2a" stroke-width="0.9"/>
<path d="M516.90 319.10V342.70" stroke="#1a1a1a" stroke-width="0.9"/>
<text x="522.00" y="284.50" font-size="11" text-anchor="end" fill="#111">Air Wound</text>
<defs><clipPath id="leaf3c"><path d="M350.0 98.0C381.7 99.7 421.7 101.3 450.0 115.0C478.3 128.7 502.3 154.2 520.0 180.0C537.7 205.8 551.8 240.0 556.0 270.0C560.2 300.0 554.3 333.0 545.0 360.0C535.7 387.0 520.8 410.3 500.0 432.0C479.2 453.7 448.3 476.7 420.0 490.0C391.7 503.3 360.0 510.8 330.0 512.0C300.0 513.2 266.7 506.5 240.0 497.0C213.3 487.5 191.7 462.8 170.0 455.0C148.3 447.2 135.0 441.7 110.0 450.0C85.0 458.3 35.0 511.7 20.0 505.0C5.0 498.3 11.7 433.3 20.0 410.0C28.3 386.7 57.5 383.3 70.0 365.0C82.5 346.7 86.7 325.8 95.0 300.0C103.3 274.2 105.8 236.7 120.0 210.0C134.2 183.3 156.7 157.5 180.0 140.0C203.3 122.5 231.7 112.0 260.0 105.0C288.3 98.0 318.3 96.3 350.0 98.0Z"/></clipPath></defs>
<clipPath id="pc3"><rect x="347.3" y="356.3" width="84.19999999999999" height="76.0"/></clipPath>
<g clip-path="url(#pc3)">
<rect x="347.3" y="356.3" width="84.19999999999999" height="76.0" fill="#f1fbff"/>
<g transform="translate(345 354) scale(0.13477)">

<path d="M0 20L15 20L20 70L0 75Z" fill="#6ccbe6" filter="url(#bl1)"/>
<path d="M350.0 98.0C381.7 99.7 421.7 101.3 450.0 115.0C478.3 128.7 502.3 154.2 520.0 180.0C537.7 205.8 551.8 240.0 556.0 270.0C560.2 300.0 554.3 333.0 545.0 360.0C535.7 387.0 520.8 410.3 500.0 432.0C479.2 453.7 448.3 476.7 420.0 490.0C391.7 503.3 360.0 510.8 330.0 512.0C300.0 513.2 266.7 506.5 240.0 497.0C213.3 487.5 191.7 462.8 170.0 455.0C148.3 447.2 135.0 441.7 110.0 450.0C85.0 458.3 35.0 511.7 20.0 505.0C5.0 498.3 11.7 433.3 20.0 410.0C28.3 386.7 57.5 383.3 70.0 365.0C82.5 346.7 86.7 325.8 95.0 300.0C103.3 274.2 105.8 236.7 120.0 210.0C134.2 183.3 156.7 157.5 180.0 140.0C203.3 122.5 231.7 112.0 260.0 105.0C288.3 98.0 318.3 96.3 350.0 98.0Z" fill="#bfe7f2"/>
<g clip-path="url(#leaf3c)">
<path d="M350.0 98.0C381.7 99.7 421.7 101.3 450.0 115.0C478.3 128.7 502.3 154.2 520.0 180.0C537.7 205.8 551.8 240.0 556.0 270.0C560.2 300.0 554.3 333.0 545.0 360.0C535.7 387.0 520.8 410.3 500.0 432.0C479.2 453.7 448.3 476.7 420.0 490.0C391.7 503.3 360.0 510.8 330.0 512.0C300.0 513.2 266.7 506.5 240.0 497.0C213.3 487.5 191.7 462.8 170.0 455.0C148.3 447.2 135.0 441.7 110.0 450.0C85.0 458.3 35.0 511.7 20.0 505.0C5.0 498.3 11.7 433.3 20.0 410.0C28.3 386.7 57.5 383.3 70.0 365.0C82.5 346.7 86.7 325.8 95.0 300.0C103.3 274.2 105.8 236.7 120.0 210.0C134.2 183.3 156.7 157.5 180.0 140.0C203.3 122.5 231.7 112.0 260.0 105.0C288.3 98.0 318.3 96.3 350.0 98.0Z" fill="none" stroke="#52c1e2" stroke-width="52" filter="url(#bl2)"/>
<ellipse cx="340" cy="300" rx="130" ry="100" fill="#d2eff7" filter="url(#bl2)" opacity="0.85"/>
<rect x="0" y="60" width="600" height="470" filter="url(#nzl)" opacity="0.35"/>
<path d="M0 430C60 400 100 380 150 370L170 420C120 430 60 470 0 510Z" fill="#3fa9d6" filter="url(#bl1)"/>
<path d="M0 472C50 440 90 415 140 395" stroke="#124f8e" stroke-width="14" fill="none" filter="url(#bl1)"/>
<path d="M20 460C120 400 200 340 300 300S430 250 490 225" stroke="#2a90bd" stroke-width="4" fill="none" filter="url(#bl3)" opacity="1.0" stroke-linecap="round"/>
<path d="M145 300C130 240 160 200 220 205S260 215 300 190S400 150 440 185S490 215 490 225" stroke="#1f84b4" stroke-width="4.5" fill="none" filter="url(#bl3)" opacity="1.0" stroke-linecap="round"/>
<path d="M250 215C240 260 230 300 190 340" stroke="#2a90bd" stroke-width="3.5" fill="none" filter="url(#bl3)" opacity="1.0" stroke-linecap="round"/>
<path d="M490 225C500 290 470 350 410 385S300 410 240 380" stroke="#2a90bd" stroke-width="4" fill="none" filter="url(#bl3)" opacity="1.0" stroke-linecap="round"/>
<path d="M300 410L310 450" stroke="#2a90bd" stroke-width="3" fill="none" filter="url(#bl3)" opacity="1.0" stroke-linecap="round"/>
<path d="M480 232L525 212" stroke="#135a94" stroke-width="9" filter="url(#bl3)"/>
<path d="M350.0 98.0C381.7 99.7 421.7 101.3 450.0 115.0C478.3 128.7 502.3 154.2 520.0 180.0C537.7 205.8 551.8 240.0 556.0 270.0C560.2 300.0 554.3 333.0 545.0 360.0C535.7 387.0 520.8 410.3 500.0 432.0C479.2 453.7 448.3 476.7 420.0 490.0C391.7 503.3 360.0 510.8 330.0 512.0C300.0 513.2 266.7 506.5 240.0 497.0C213.3 487.5 191.7 462.8 170.0 455.0C148.3 447.2 135.0 441.7 110.0 450.0C85.0 458.3 35.0 511.7 20.0 505.0C5.0 498.3 11.7 433.3 20.0 410.0C28.3 386.7 57.5 383.3 70.0 365.0C82.5 346.7 86.7 325.8 95.0 300.0C103.3 274.2 105.8 236.7 120.0 210.0C134.2 183.3 156.7 157.5 180.0 140.0C203.3 122.5 231.7 112.0 260.0 105.0C288.3 98.0 318.3 96.3 350.0 98.0Z" fill="none" stroke="#48b9df" stroke-width="7" filter="url(#bl3)" opacity="0.8"/>
</g>

</g></g>
<rect x="347.3" y="356.3" width="84.19999999999999" height="76.0" fill="none" stroke="#2a2a2a" stroke-width="0.9"/>
<path d="M424.40 402.10V425.70" stroke="#1a1a1a" stroke-width="0.9"/>
<text x="429.50" y="367.50" font-size="11" text-anchor="end" fill="#111">Sub Mock</text>
<defs><clipPath id="leaf4c"><path d="M300 104C360 100 430 125 475 165C495 182 512 198 525 215C505 245 475 272 440 296L335 352L325 360L340 363C375 342 410 324 440 313C480 298 520 288 565 283C568 320 560 370 530 420C500 465 450 495 395 520C380 545 372 570 370 600H268C270 570 265 540 255 515C200 480 150 430 120 380C95 335 85 290 95 240C110 180 160 135 220 115C245 108 270 105 300 104Z"/></clipPath></defs>
<clipPath id="pc4"><rect x="439.4" y="356.3" width="84.60000000000002" height="76.0"/></clipPath>
<g clip-path="url(#pc4)">
<rect x="439.4" y="356.3" width="84.60000000000002" height="76.0" fill="#f1fbff"/>
<g transform="translate(437 354) scale(0.13477)">

<path d="M335 352L525 215L548 250L500 288Z" fill="#d3eff8" filter="url(#bl1)"/>
<path d="M300 104C360 100 430 125 475 165C495 182 512 198 525 215C505 245 475 272 440 296L335 352L325 360L340 363C375 342 410 324 440 313C480 298 520 288 565 283C568 320 560 370 530 420C500 465 450 495 395 520C380 545 372 570 370 600H268C270 570 265 540 255 515C200 480 150 430 120 380C95 335 85 290 95 240C110 180 160 135 220 115C245 108 270 105 300 104Z" fill="#b5e4f3"/>
<g clip-path="url(#leaf4c)">
<path d="M300 104C360 100 430 125 475 165C495 182 512 198 525 215C505 245 475 272 440 296L335 352L325 360L340 363C375 342 410 324 440 313C480 298 520 288 565 283C568 320 560 370 530 420C500 465 450 495 395 520C380 545 372 570 370 600H268C270 570 265 540 255 515C200 480 150 430 120 380C95 335 85 290 95 240C110 180 160 135 220 115C245 108 270 105 300 104Z" fill="none" stroke="#4cc0e8" stroke-width="56" filter="url(#bl2)"/>
<ellipse cx="300" cy="260" rx="110" ry="90" fill="#c8ecf7" filter="url(#bl2)" opacity="0.9"/>
<rect x="60" y="80" width="540" height="540" filter="url(#nzl)" opacity="0.3"/>
<path d="M320 600C325 520 325 430 330 365" stroke="#1763ac" stroke-width="14" fill="none" filter="url(#bl1)"/>
<path d="M295 600V540M345 600V540" stroke="#1a6db8" stroke-width="20" fill="none" filter="url(#bl1)"/><path d="M320 600V520" stroke="#0f4f9a" stroke-width="22" fill="none" filter="url(#bl1)"/>
<path d="M290 135C300 200 310 250 320 300S330 340 330 360" stroke="#1f84b8" stroke-width="4.5" fill="none" filter="url(#bl3)" opacity="1.0" stroke-linecap="round"/>
<path d="M292 150C240 170 180 220 175 270S220 340 300 355" stroke="#1f84b8" stroke-width="4.5" fill="none" filter="url(#bl3)" opacity="1.0" stroke-linecap="round"/>
<path d="M300 160C370 160 430 200 440 260S430 290 430 300" stroke="#2a90bd" stroke-width="3.5" fill="none" filter="url(#bl3)" opacity="1.0" stroke-linecap="round"/>
<path d="M185 330C165 370 170 400 185 420" stroke="#1f84b8" stroke-width="3.5" fill="none" filter="url(#bl3)" opacity="1.0" stroke-linecap="round"/>
<path d="M410 435C450 410 490 370 500 320" stroke="#1f84b8" stroke-width="4.5" fill="none" filter="url(#bl3)" opacity="1.0" stroke-linecap="round"/>
<path d="M288 130L300 155" stroke="#114a84" stroke-width="9" filter="url(#bl3)"/>
<path d="M300 104C360 100 430 125 475 165C495 182 512 198 525 215C505 245 475 272 440 296L335 352L325 360L340 363C375 342 410 324 440 313C480 298 520 288 565 283C568 320 560 370 530 420C500 465 450 495 395 520C380 545 372 570 370 600H268C270 570 265 540 255 515C200 480 150 430 120 380C95 335 85 290 95 240C110 180 160 135 220 115C245 108 270 105 300 104Z" fill="none" stroke="#40b6e2" stroke-width="7" filter="url(#bl3)" opacity="0.7"/>
</g>

</g></g>
<rect x="439.4" y="356.3" width="84.60000000000002" height="76.0" fill="none" stroke="#2a2a2a" stroke-width="0.9"/>
<path d="M516.90 402.10V425.70" stroke="#1a1a1a" stroke-width="0.9"/>
<text x="522.00" y="367.50" font-size="11" text-anchor="end" fill="#111">Sub Wound</text>
<rect x="569.60" y="385.50" width="12.20" height="36.50" fill="#fff" stroke="#000" stroke-width="0.8"/>
<path d="M575.70 385.50V365.79M574.40 365.79H577.00" stroke="#000" stroke-width="0.85" fill="none"/>
<circle cx="575.70" cy="359.95" r="1.15" fill="#fff" stroke="#000" stroke-width="0.6"/>
<circle cx="575.70" cy="383.68" r="1.15" fill="#fff" stroke="#000" stroke-width="0.6"/>
<circle cx="575.70" cy="392.80" r="1.15" fill="#fff" stroke="#000" stroke-width="0.6"/>
<circle cx="575.70" cy="405.57" r="1.15" fill="#fff" stroke="#000" stroke-width="0.6"/>
<text x="575.70" y="354.35" font-size="8.8" text-anchor="middle" fill="#000">a</text>
<rect x="600.60" y="310.31" width="12.40" height="111.69" fill="#0d6ec4" stroke="#000" stroke-width="0.8"/>
<path d="M606.80 310.31V303.74M605.50 303.74H608.10" stroke="#000" stroke-width="0.85" fill="none"/>
<circle cx="606.80" cy="301.55" r="1.15" fill="#fff" stroke="#000" stroke-width="0.6"/>
<circle cx="606.80" cy="305.20" r="1.15" fill="#fff" stroke="#000" stroke-width="0.6"/>
<circle cx="606.80" cy="308.85" r="1.15" fill="#fff" stroke="#000" stroke-width="0.6"/>
<circle cx="606.80" cy="313.23" r="1.15" fill="#fff" stroke="#000" stroke-width="0.6"/>
<circle cx="606.80" cy="316.88" r="1.15" fill="#fff" stroke="#000" stroke-width="0.6"/>
<text x="606.80" y="296.95" font-size="8.8" text-anchor="middle" fill="#000">b</text>
<rect x="631.20" y="397.18" width="12.40" height="24.82" fill="#fff" stroke="#000" stroke-width="0.8"/>
<path d="M637.40 397.18V393.53M636.10 393.53H638.70" stroke="#000" stroke-width="0.85" fill="none"/>
<circle cx="637.40" cy="392.80" r="1.15" fill="#fff" stroke="#000" stroke-width="0.6"/>
<circle cx="637.40" cy="395.36" r="1.15" fill="#fff" stroke="#000" stroke-width="0.6"/>
<circle cx="637.40" cy="397.91" r="1.15" fill="#fff" stroke="#000" stroke-width="0.6"/>
<circle cx="637.40" cy="401.93" r="1.15" fill="#fff" stroke="#000" stroke-width="0.6"/>
<text x="637.40" y="387.80" font-size="8.8" text-anchor="middle" fill="#000">a</text>
<rect x="661.80" y="384.77" width="12.20" height="37.23" fill="#0d6ec4" stroke="#000" stroke-width="0.8"/>
<path d="M667.90 384.77V379.30M666.60 379.30H669.20" stroke="#000" stroke-width="0.85" fill="none"/>
<circle cx="667.90" cy="377.47" r="1.15" fill="#fff" stroke="#000" stroke-width="0.6"/>
<circle cx="667.90" cy="381.85" r="1.15" fill="#fff" stroke="#000" stroke-width="0.6"/>
<circle cx="667.90" cy="385.50" r="1.15" fill="#fff" stroke="#000" stroke-width="0.6"/>
<circle cx="667.90" cy="389.15" r="1.15" fill="#fff" stroke="#000" stroke-width="0.6"/>
<circle cx="667.90" cy="392.07" r="1.15" fill="#fff" stroke="#000" stroke-width="0.6"/>
<text x="667.90" y="372.87" font-size="8.8" text-anchor="middle" fill="#000">c</text>
<rect x="560.50" y="276.00" width="123.30" height="146.00" fill="none" stroke="#000" stroke-width="0.9"/>
<text x="558.50" y="425.31" font-size="9.2" text-anchor="end" fill="#000">0</text>
<text x="558.50" y="388.81" font-size="9.2" text-anchor="end" fill="#000">1</text>
<text x="558.50" y="352.31" font-size="9.2" text-anchor="end" fill="#000">2</text>
<text x="558.50" y="315.81" font-size="9.2" text-anchor="end" fill="#000">3</text>
<text x="558.50" y="279.31" font-size="9.2" text-anchor="end" fill="#000">4</text>
<path d="M560.50 422.00h1.6M560.50 385.50h1.6M560.50 349.00h1.6M560.50 312.50h1.6M560.50 276.00h1.6M591.00 422.00v-2M621.80 422.00v-2M652.60 422.00v-2" stroke="#000" stroke-width="0.8" fill="none"/>
<text x="545.00" y="350.00" font-size="10.7" text-anchor="middle" transform="rotate(-90 545.00 350.00)" fill="#000">Relative intensity</text>
<text x="681.20" y="288.10" font-size="10.7" text-anchor="end" font-style="italic" fill="#000"></text>
<text x="575.60" y="432.40" font-size="9.4" text-anchor="middle" fill="#000">Mock</text>
<text x="604.80" y="432.40" font-size="9.4" text-anchor="middle" fill="#000">Wound</text>
<text x="636.80" y="432.40" font-size="9.4" text-anchor="middle" fill="#000">Mock</text>
<text x="666.20" y="432.40" font-size="9.4" text-anchor="middle" fill="#000">Wound</text>
<path d="M562.4 427.4V436.4H620.4V427.4M623.4 427.4V436.4H682V427.4" fill="none" stroke="#000" stroke-width="0.8"/>
<text x="592.20" y="447.80" font-size="10.7" text-anchor="middle" fill="#000">Air</text>
<text x="652.80" y="447.80" font-size="10.7" text-anchor="middle" fill="#000">Sub</text>
<text x="435.30" y="445.80" font-size="10.9" text-anchor="middle" font-style="italic" fill="#000">pJAZ10:GUS</text>
<rect x="42.50" y="566.40" width="8.30" height="1.60" fill="#fff" stroke="#000" stroke-width="0.8"/>
<path d="M46.65 566.40V566.03M45.35 566.03H47.95" stroke="#000" stroke-width="0.85" fill="none"/>
<circle cx="46.65" cy="565.11" r="1.15" fill="#fff" stroke="#000" stroke-width="0.6"/>
<circle cx="47.25" cy="566.27" r="1.15" fill="#fff" stroke="#000" stroke-width="0.6"/>
<circle cx="46.05" cy="567.56" r="1.15" fill="#fff" stroke="#000" stroke-width="0.6"/>
<text x="46.65" y="563.11" font-size="8.9" text-anchor="middle" fill="#000">a</text>
<rect x="50.80" y="565.52" width="7.60" height="2.48" fill="#000" stroke="#000" stroke-width="0.8"/>
<path d="M54.60 565.52V564.94M53.30 564.94H55.90" stroke="#000" stroke-width="0.85" fill="none"/>
<circle cx="54.60" cy="564.24" r="1.15" fill="#fff" stroke="#000" stroke-width="0.6"/>
<circle cx="55.20" cy="565.40" r="1.15" fill="#fff" stroke="#000" stroke-width="0.6"/>
<circle cx="54.00" cy="566.69" r="0.9" fill="#fff"/>
<text x="54.60" y="562.24" font-size="8.9" text-anchor="middle" fill="#000">a</text>
<rect x="70.50" y="499.51" width="8.30" height="68.49" fill="#fff" stroke="#000" stroke-width="0.8"/>
<path d="M74.65 499.51V495.14M73.35 495.14H75.95" stroke="#000" stroke-width="0.85" fill="none"/>
<circle cx="74.65" cy="494.92" r="1.15" fill="#fff" stroke="#000" stroke-width="0.6"/>
<circle cx="75.25" cy="499.08" r="1.15" fill="#fff" stroke="#000" stroke-width="0.6"/>
<circle cx="74.05" cy="503.67" r="1.15" fill="#fff" stroke="#000" stroke-width="0.6"/>
<text x="74.65" y="492.92" font-size="8.9" text-anchor="middle" fill="#000">b</text>
<rect x="78.80" y="531.21" width="7.60" height="36.79" fill="#000" stroke="#000" stroke-width="0.8"/>
<path d="M82.60 531.21V519.55M81.30 519.55H83.90" stroke="#000" stroke-width="0.85" fill="none"/>
<circle cx="82.60" cy="518.97" r="1.15" fill="#fff" stroke="#000" stroke-width="0.6"/>
<circle cx="83.20" cy="530.04" r="1.15" fill="#fff" stroke="#000" stroke-width="0.6"/>
<circle cx="82.00" cy="542.28" r="0.9" fill="#fff"/>
<text x="82.60" y="516.97" font-size="8.9" text-anchor="middle" fill="#000">c</text>
<rect x="97.40" y="485.67" width="8.30" height="82.33" fill="#fff" stroke="#000" stroke-width="0.8"/>
<path d="M101.55 485.67V476.20M100.25 476.20H102.85" stroke="#000" stroke-width="0.85" fill="none"/>
<circle cx="101.55" cy="475.73" r="1.15" fill="#fff" stroke="#000" stroke-width="0.6"/>
<circle cx="102.15" cy="484.72" r="1.15" fill="#fff" stroke="#000" stroke-width="0.6"/>
<circle cx="100.95" cy="494.67" r="1.15" fill="#fff" stroke="#000" stroke-width="0.6"/>
<text x="97.10" y="479.03" font-size="8.9" text-anchor="end" fill="#000">b</text>
<rect x="105.70" y="548.33" width="7.60" height="19.67" fill="#000" stroke="#000" stroke-width="0.8"/>
<path d="M109.50 548.33V546.51M108.20 546.51H110.80" stroke="#000" stroke-width="0.85" fill="none"/>
<circle cx="109.50" cy="546.42" r="1.15" fill="#fff" stroke="#000" stroke-width="0.6"/>
<circle cx="110.10" cy="548.15" r="1.15" fill="#fff" stroke="#000" stroke-width="0.6"/>
<circle cx="108.90" cy="550.06" r="0.9" fill="#fff"/>
<text x="109.50" y="544.42" font-size="8.9" text-anchor="middle" fill="#000">d</text>
<rect x="124.60" y="561.44" width="8.30" height="6.56" fill="#fff" stroke="#000" stroke-width="0.8"/>
<path d="M128.75 561.44V560.57M127.45 560.57H130.05" stroke="#000" stroke-width="0.85" fill="none"/>
<circle cx="128.75" cy="560.16" r="1.15" fill="#fff" stroke="#000" stroke-width="0.6"/>
<circle cx="129.35" cy="561.32" r="1.15" fill="#fff" stroke="#000" stroke-width="0.6"/>
<circle cx="128.15" cy="562.61" r="1.15" fill="#fff" stroke="#000" stroke-width="0.6"/>
<text x="127.75" y="558.16" font-size="8.9" text-anchor="middle" fill="#000">ad</text>
<rect x="132.90" y="562.17" width="7.60" height="5.83" fill="#000" stroke="#000" stroke-width="0.8"/>
<path d="M136.70 562.17V561.30M135.40 561.30H138.00" stroke="#000" stroke-width="0.85" fill="none"/>
<circle cx="136.70" cy="560.89" r="1.15" fill="#fff" stroke="#000" stroke-width="0.6"/>
<circle cx="137.30" cy="562.05" r="1.15" fill="#fff" stroke="#000" stroke-width="0.6"/>
<circle cx="136.10" cy="563.33" r="0.9" fill="#fff"/>
<text x="137.70" y="558.89" font-size="8.9" text-anchor="middle" fill="#000">ad</text>
<rect x="36.80" y="466.00" width="109.80" height="102.00" fill="none" stroke="#000" stroke-width="0.9"/>
<text x="33.80" y="572.81" font-size="9.2" text-anchor="end" fill="#000">0</text>
<text x="33.80" y="558.24" font-size="9.2" text-anchor="end" fill="#000">20</text>
<text x="33.80" y="543.67" font-size="9.2" text-anchor="end" fill="#000">40</text>
<text x="33.80" y="529.10" font-size="9.2" text-anchor="end" fill="#000">60</text>
<text x="33.80" y="514.53" font-size="9.2" text-anchor="end" fill="#000">80</text>
<text x="33.80" y="499.95" font-size="9.2" text-anchor="end" fill="#000">100</text>
<text x="33.80" y="485.38" font-size="9.2" text-anchor="end" fill="#000">120</text>
<text x="33.80" y="470.81" font-size="9.2" text-anchor="end" fill="#000">140</text>
<path d="M36.80 568.00h1.6M36.80 553.43h1.6M36.80 538.86h1.6M36.80 524.29h1.6M36.80 509.71h1.6M36.80 495.14h1.6M36.80 480.57h1.6M36.80 466.00h1.6M64.80 568.00v-2M92.20 568.00v-2M119.30 568.00v-2" stroke="#000" stroke-width="0.8" fill="none"/>
<text x="15.40" y="518.00" font-size="10.7" text-anchor="middle" transform="rotate(-90 15.40 518.00)" fill="#000">Relative expression</text>
<text x="41.80" y="479.60" font-size="10.7" text-anchor="start" font-style="italic" fill="#000">JAZ7</text>
<text x="50.80" y="579.80" font-size="10.7" text-anchor="middle" fill="#000">0</text>
<text x="78.80" y="579.80" font-size="10.7" text-anchor="middle" fill="#000">0.5</text>
<text x="105.70" y="579.80" font-size="10.7" text-anchor="middle" fill="#000">1</text>
<text x="132.90" y="579.80" font-size="10.7" text-anchor="middle" fill="#000">2h</text>
<rect x="108.80" y="469.20" width="34.40" height="26.80" fill="#fff" stroke="#000" stroke-width="0.8"/>
<rect x="112.60" y="474.40" width="6.2" height="6.2" fill="#fff" stroke="#000" stroke-width="0.7"/>
<text x="121.60" y="481.00" font-size="10.7" text-anchor="start" fill="#000">Air</text>
<rect x="112.60" y="486.80" width="6.2" height="6.2" fill="#000" stroke="#000" stroke-width="0.7"/>
<text x="121.60" y="493.40" font-size="10.7" text-anchor="start" fill="#000">Sub</text>
<text x="92.40" y="591.30" font-size="10.7" text-anchor="middle" fill="#000">Time after wounding</text>
<rect x="185.40" y="566.30" width="8.30" height="1.70" fill="#fff" stroke="#000" stroke-width="0.8"/>
<path d="M189.55 566.30V565.79M188.25 565.79H190.85" stroke="#000" stroke-width="0.85" fill="none"/>
<circle cx="189.55" cy="565.01" r="1.15" fill="#fff" stroke="#000" stroke-width="0.6"/>
<circle cx="190.15" cy="566.18" r="1.15" fill="#fff" stroke="#000" stroke-width="0.6"/>
<circle cx="188.95" cy="567.46" r="1.15" fill="#fff" stroke="#000" stroke-width="0.6"/>
<text x="189.55" y="563.01" font-size="8.9" text-anchor="middle" fill="#000">a</text>
<rect x="193.70" y="560.35" width="7.60" height="7.65" fill="#000" stroke="#000" stroke-width="0.8"/>
<path d="M197.50 560.35V559.33M196.20 559.33H198.80" stroke="#000" stroke-width="0.85" fill="none"/>
<circle cx="197.50" cy="559.06" r="1.15" fill="#fff" stroke="#000" stroke-width="0.6"/>
<circle cx="198.10" cy="560.23" r="1.15" fill="#fff" stroke="#000" stroke-width="0.6"/>
<circle cx="196.90" cy="561.51" r="0.9" fill="#fff"/>
<text x="197.50" y="557.06" font-size="8.9" text-anchor="middle" fill="#000">a</text>
<rect x="212.90" y="526.35" width="8.30" height="41.65" fill="#fff" stroke="#000" stroke-width="0.8"/>
<path d="M217.05 526.35V522.10M215.75 522.10H218.35" stroke="#000" stroke-width="0.85" fill="none"/>
<circle cx="217.05" cy="521.89" r="1.15" fill="#fff" stroke="#000" stroke-width="0.6"/>
<circle cx="217.65" cy="525.92" r="1.15" fill="#fff" stroke="#000" stroke-width="0.6"/>
<circle cx="216.45" cy="530.39" r="1.15" fill="#fff" stroke="#000" stroke-width="0.6"/>
<text x="217.05" y="519.89" font-size="8.9" text-anchor="middle" fill="#000">b</text>
<rect x="221.20" y="537.40" width="7.60" height="30.60" fill="#000" stroke="#000" stroke-width="0.8"/>
<path d="M225.00 537.40V531.45M223.70 531.45H226.30" stroke="#000" stroke-width="0.85" fill="none"/>
<circle cx="225.00" cy="531.15" r="1.15" fill="#fff" stroke="#000" stroke-width="0.6"/>
<circle cx="225.60" cy="536.80" r="1.15" fill="#fff" stroke="#000" stroke-width="0.6"/>
<circle cx="224.40" cy="543.05" r="0.9" fill="#fff"/>
<text x="225.00" y="529.15" font-size="8.9" text-anchor="middle" fill="#000">b</text>
<rect x="240.30" y="490.82" width="8.30" height="77.18" fill="#fff" stroke="#000" stroke-width="0.8"/>
<path d="M244.45 490.82V478.92M243.15 478.92H245.75" stroke="#000" stroke-width="0.85" fill="none"/>
<circle cx="244.45" cy="478.32" r="1.15" fill="#fff" stroke="#000" stroke-width="0.6"/>
<circle cx="245.05" cy="489.63" r="1.15" fill="#fff" stroke="#000" stroke-width="0.6"/>
<circle cx="243.85" cy="502.12" r="1.15" fill="#fff" stroke="#000" stroke-width="0.6"/>
<text x="244.45" y="476.32" font-size="8.9" text-anchor="middle" fill="#000">c</text>
<rect x="248.60" y="540.46" width="7.60" height="27.54" fill="#000" stroke="#000" stroke-width="0.8"/>
<path d="M252.40 540.46V535.36M251.10 535.36H253.70" stroke="#000" stroke-width="0.85" fill="none"/>
<circle cx="252.40" cy="535.11" r="1.15" fill="#fff" stroke="#000" stroke-width="0.6"/>
<circle cx="253.00" cy="539.95" r="1.15" fill="#fff" stroke="#000" stroke-width="0.6"/>
<circle cx="251.80" cy="545.30" r="0.9" fill="#fff"/>
<text x="252.40" y="533.11" font-size="8.9" text-anchor="middle" fill="#000">b</text>
<rect x="267.70" y="540.46" width="8.30" height="27.54" fill="#fff" stroke="#000" stroke-width="0.8"/>
<path d="M271.85 540.46V536.21M270.55 536.21H273.15" stroke="#000" stroke-width="0.85" fill="none"/>
<circle cx="271.85" cy="536.00" r="1.15" fill="#fff" stroke="#000" stroke-width="0.6"/>
<circle cx="272.45" cy="540.03" r="1.15" fill="#fff" stroke="#000" stroke-width="0.6"/>
<circle cx="271.25" cy="544.50" r="1.15" fill="#fff" stroke="#000" stroke-width="0.6"/>
<text x="271.85" y="534.00" font-size="8.9" text-anchor="middle" fill="#000">b</text>
<rect x="276.00" y="558.99" width="7.60" height="9.01" fill="#000" stroke="#000" stroke-width="0.8"/>
<path d="M279.80 558.99V558.48M278.50 558.48H281.10" stroke="#000" stroke-width="0.85" fill="none"/>
<circle cx="279.80" cy="557.70" r="1.15" fill="#fff" stroke="#000" stroke-width="0.6"/>
<circle cx="280.40" cy="558.87" r="1.15" fill="#fff" stroke="#000" stroke-width="0.6"/>
<circle cx="279.20" cy="560.15" r="0.9" fill="#fff"/>
<text x="279.80" y="555.70" font-size="8.9" text-anchor="middle" fill="#000">a</text>
<rect x="180.20" y="466.00" width="109.80" height="102.00" fill="none" stroke="#000" stroke-width="0.9"/>
<text x="177.20" y="572.81" font-size="9.2" text-anchor="end" fill="#000">0</text>
<text x="177.20" y="555.81" font-size="9.2" text-anchor="end" fill="#000">10</text>
<text x="177.20" y="538.81" font-size="9.2" text-anchor="end" fill="#000">20</text>
<text x="177.20" y="521.81" font-size="9.2" text-anchor="end" fill="#000">30</text>
<text x="177.20" y="504.81" font-size="9.2" text-anchor="end" fill="#000">40</text>
<text x="177.20" y="487.81" font-size="9.2" text-anchor="end" fill="#000">50</text>
<text x="177.20" y="470.81" font-size="9.2" text-anchor="end" fill="#000">60</text>
<path d="M180.20 568.00h1.6M180.20 551.00h1.6M180.20 534.00h1.6M180.20 517.00h1.6M180.20 500.00h1.6M180.20 483.00h1.6M180.20 466.00h1.6M207.50 568.00v-2M235.00 568.00v-2M262.30 568.00v-2" stroke="#000" stroke-width="0.8" fill="none"/>
<text x="162.80" y="518.00" font-size="10.7" text-anchor="middle" transform="rotate(-90 162.80 518.00)" fill="#000">Relative expression</text>
<text x="183.00" y="479.60" font-size="10.7" text-anchor="start" font-style="italic" fill="#000">JAZ10</text>
<text x="193.70" y="579.80" font-size="10.7" text-anchor="middle" fill="#000">0</text>
<text x="221.20" y="579.80" font-size="10.7" text-anchor="middle" fill="#000">0.5</text>
<text x="248.60" y="579.80" font-size="10.7" text-anchor="middle" fill="#000">1</text>
<text x="276.00" y="579.80" font-size="10.7" text-anchor="middle" fill="#000">2h</text>
<text x="235.00" y="591.30" font-size="10.7" text-anchor="middle" fill="#000">Time after wounding</text>
<rect x="328.60" y="565.45" width="8.20" height="2.55" fill="#fff" stroke="#000" stroke-width="0.8"/>
<path d="M332.70 565.45V564.94M331.40 564.94H334.00" stroke="#000" stroke-width="0.85" fill="none"/>
<circle cx="332.70" cy="564.16" r="1.15" fill="#fff" stroke="#000" stroke-width="0.6"/>
<circle cx="333.30" cy="565.33" r="1.15" fill="#fff" stroke="#000" stroke-width="0.6"/>
<circle cx="332.10" cy="566.61" r="1.15" fill="#fff" stroke="#000" stroke-width="0.6"/>
<text x="332.70" y="562.16" font-size="8.9" text-anchor="middle" fill="#000">a</text>
<rect x="336.80" y="562.13" width="7.50" height="5.87" fill="#000" stroke="#000" stroke-width="0.8"/>
<path d="M340.55 562.13V561.37M339.25 561.37H341.85" stroke="#000" stroke-width="0.85" fill="none"/>
<circle cx="340.55" cy="560.85" r="1.15" fill="#fff" stroke="#000" stroke-width="0.6"/>
<circle cx="341.15" cy="562.01" r="1.15" fill="#fff" stroke="#000" stroke-width="0.6"/>
<circle cx="339.95" cy="563.30" r="0.9" fill="#fff"/>
<text x="340.55" y="558.85" font-size="8.9" text-anchor="middle" fill="#000">ad</text>
<rect x="356.20" y="523.38" width="8.20" height="44.62" fill="#fff" stroke="#000" stroke-width="0.8"/>
<path d="M360.30 523.38V517.76M359.00 517.76H361.60" stroke="#000" stroke-width="0.85" fill="none"/>
<circle cx="360.30" cy="517.48" r="1.15" fill="#fff" stroke="#000" stroke-width="0.6"/>
<circle cx="360.90" cy="522.81" r="1.15" fill="#fff" stroke="#000" stroke-width="0.6"/>
<circle cx="359.70" cy="528.70" r="1.15" fill="#fff" stroke="#000" stroke-width="0.6"/>
<text x="360.30" y="515.48" font-size="8.9" text-anchor="middle" fill="#000">b</text>
<rect x="364.40" y="549.64" width="7.50" height="18.36" fill="#000" stroke="#000" stroke-width="0.8"/>
<path d="M368.15 549.64V547.09M366.85 547.09H369.45" stroke="#000" stroke-width="0.85" fill="none"/>
<circle cx="368.15" cy="546.96" r="1.15" fill="#fff" stroke="#000" stroke-width="0.6"/>
<circle cx="368.75" cy="549.38" r="1.15" fill="#fff" stroke="#000" stroke-width="0.6"/>
<circle cx="367.55" cy="552.06" r="0.9" fill="#fff"/>
<text x="368.15" y="544.96" font-size="8.9" text-anchor="middle" fill="#000">de</text>
<rect x="383.60" y="490.48" width="8.20" height="77.52" fill="#fff" stroke="#000" stroke-width="0.8"/>
<path d="M387.70 490.48V482.32M386.40 482.32H389.00" stroke="#000" stroke-width="0.85" fill="none"/>
<circle cx="387.70" cy="481.91" r="1.15" fill="#fff" stroke="#000" stroke-width="0.6"/>
<circle cx="388.30" cy="489.66" r="1.15" fill="#fff" stroke="#000" stroke-width="0.6"/>
<circle cx="387.10" cy="498.23" r="1.15" fill="#fff" stroke="#000" stroke-width="0.6"/>
<text x="387.70" y="479.91" font-size="8.9" text-anchor="middle" fill="#000">c</text>
<rect x="391.80" y="542.75" width="7.50" height="25.25" fill="#000" stroke="#000" stroke-width="0.8"/>
<path d="M395.55 542.75V534.60M394.25 534.60H396.85" stroke="#000" stroke-width="0.85" fill="none"/>
<circle cx="395.55" cy="534.19" r="1.15" fill="#fff" stroke="#000" stroke-width="0.6"/>
<circle cx="396.15" cy="541.94" r="1.15" fill="#fff" stroke="#000" stroke-width="0.6"/>
<circle cx="394.95" cy="550.51" r="0.9" fill="#fff"/>
<text x="395.55" y="532.19" font-size="8.9" text-anchor="middle" fill="#000">e</text>
<rect x="410.90" y="550.91" width="8.20" height="17.09" fill="#fff" stroke="#000" stroke-width="0.8"/>
<path d="M415.00 550.91V549.64M413.70 549.64H416.30" stroke="#000" stroke-width="0.85" fill="none"/>
<circle cx="415.00" cy="549.58" r="1.15" fill="#fff" stroke="#000" stroke-width="0.6"/>
<circle cx="415.60" cy="550.79" r="1.15" fill="#fff" stroke="#000" stroke-width="0.6"/>
<circle cx="414.40" cy="552.13" r="1.15" fill="#fff" stroke="#000" stroke-width="0.6"/>
<text x="413.50" y="547.58" font-size="8.9" text-anchor="middle" fill="#000">de</text>
<rect x="419.10" y="560.35" width="7.50" height="7.65" fill="#000" stroke="#000" stroke-width="0.8"/>
<path d="M422.85 560.35V559.33M421.55 559.33H424.15" stroke="#000" stroke-width="0.85" fill="none"/>
<circle cx="422.85" cy="559.06" r="1.15" fill="#fff" stroke="#000" stroke-width="0.6"/>
<circle cx="423.45" cy="560.23" r="1.15" fill="#fff" stroke="#000" stroke-width="0.6"/>
<circle cx="422.25" cy="561.51" r="0.9" fill="#fff"/>
<text x="424.35" y="557.06" font-size="8.9" text-anchor="middle" fill="#000">ad</text>
<rect x="323.60" y="466.00" width="109.20" height="102.00" fill="none" stroke="#000" stroke-width="0.9"/>
<text x="320.60" y="572.81" font-size="9.2" text-anchor="end" fill="#000">0</text>
<text x="320.60" y="560.06" font-size="9.2" text-anchor="end" fill="#000">5</text>
<text x="320.60" y="547.31" font-size="9.2" text-anchor="end" fill="#000">10</text>
<text x="320.60" y="534.56" font-size="9.2" text-anchor="end" fill="#000">15</text>
<text x="320.60" y="521.81" font-size="9.2" text-anchor="end" fill="#000">20</text>
<text x="320.60" y="509.06" font-size="9.2" text-anchor="end" fill="#000">25</text>
<text x="320.60" y="496.31" font-size="9.2" text-anchor="end" fill="#000">30</text>
<text x="320.60" y="483.56" font-size="9.2" text-anchor="end" fill="#000">35</text>
<text x="320.60" y="470.81" font-size="9.2" text-anchor="end" fill="#000">40</text>
<path d="M323.60 568.00h1.6M323.60 555.25h1.6M323.60 542.50h1.6M323.60 529.75h1.6M323.60 517.00h1.6M323.60 504.25h1.6M323.60 491.50h1.6M323.60 478.75h1.6M323.60 466.00h1.6M350.50 568.00v-2M378.00 568.00v-2M405.50 568.00v-2" stroke="#000" stroke-width="0.8" fill="none"/>
<text x="304.80" y="518.00" font-size="10.7" text-anchor="middle" transform="rotate(-90 304.80 518.00)" fill="#000">Relative expression</text>
<text x="430.20" y="479.60" font-size="10.7" text-anchor="end" font-style="italic" fill="#000">OPR3</text>
<text x="336.80" y="579.80" font-size="10.7" text-anchor="middle" fill="#000">0</text>
<text x="364.40" y="579.80" font-size="10.7" text-anchor="middle" fill="#000">0.5</text>
<text x="391.80" y="579.80" font-size="10.7" text-anchor="middle" fill="#000">1</text>
<text x="419.10" y="579.80" font-size="10.7" text-anchor="middle" fill="#000">2h</text>
<text x="378.00" y="591.30" font-size="10.7" text-anchor="middle" fill="#000">Time after wounding</text>
<rect x="484.90" y="483.00" width="6.80" height="85.00" fill="#0d6ec4" stroke="#000" stroke-width="0.8"/>
<path d="M488.30 483.00V471.10M487.00 471.10H489.60" stroke="#000" stroke-width="0.85" fill="none"/>
<circle cx="488.30" cy="470.25" r="1.15" fill="#fff" stroke="#000" stroke-width="0.6"/>
<circle cx="487.10" cy="488.10" r="1.15" fill="#fff" stroke="#000" stroke-width="0.6"/>
<circle cx="489.50" cy="488.95" r="1.15" fill="#fff" stroke="#000" stroke-width="0.6"/>
<text x="492.90" y="474.05" font-size="9.0" text-anchor="start" fill="#000">a</text>
<rect x="501.60" y="546.24" width="6.80" height="21.76" fill="#fff" stroke="#000" stroke-width="0.8"/>
<path d="M505.00 546.24V543.69M503.70 543.69H506.30" stroke="#000" stroke-width="0.85" fill="none"/>
<circle cx="505.00" cy="543.35" r="1.15" fill="#fff" stroke="#000" stroke-width="0.6"/>
<circle cx="506.40" cy="545.90" r="1.15" fill="#fff" stroke="#000" stroke-width="0.6"/>
<circle cx="503.60" cy="547.60" r="1.15" fill="#fff" stroke="#000" stroke-width="0.6"/>
<text x="505.00" y="541.35" font-size="9.0" text-anchor="middle" fill="#000">b</text>
<rect x="518.30" y="552.70" width="6.80" height="15.30" fill="#fff" stroke="#000" stroke-width="0.8"/>
<path d="M521.70 552.70V551.42M520.40 551.42H523.00" stroke="#000" stroke-width="0.85" fill="none"/>
<circle cx="520.30" cy="551.85" r="1.15" fill="#fff" stroke="#000" stroke-width="0.6"/>
<circle cx="521.70" cy="553.12" r="1.15" fill="#fff" stroke="#000" stroke-width="0.6"/>
<circle cx="523.10" cy="553.98" r="1.15" fill="#fff" stroke="#000" stroke-width="0.6"/>
<text x="521.70" y="549.85" font-size="9.0" text-anchor="middle" fill="#000">b</text>
<rect x="535.20" y="555.59" width="6.80" height="12.41" fill="#fff" stroke="#000" stroke-width="0.8"/>
<path d="M538.60 555.59V554.32M537.30 554.32H539.90" stroke="#000" stroke-width="0.85" fill="none"/>
<circle cx="537.20" cy="554.40" r="1.15" fill="#fff" stroke="#000" stroke-width="0.6"/>
<circle cx="538.60" cy="555.25" r="1.15" fill="#fff" stroke="#000" stroke-width="0.6"/>
<circle cx="540.00" cy="556.10" r="1.15" fill="#fff" stroke="#000" stroke-width="0.6"/>
<text x="538.60" y="552.40" font-size="9.0" text-anchor="middle" fill="#000">b</text>
<rect x="551.80" y="555.59" width="6.80" height="12.41" fill="#fff" stroke="#000" stroke-width="0.8"/>
<path d="M555.20 555.59V553.89M553.90 553.89H556.50" stroke="#000" stroke-width="0.85" fill="none"/>
<circle cx="556.60" cy="553.55" r="1.15" fill="#fff" stroke="#000" stroke-width="0.6"/>
<circle cx="555.20" cy="555.25" r="1.15" fill="#fff" stroke="#000" stroke-width="0.6"/>
<circle cx="553.80" cy="556.10" r="1.15" fill="#fff" stroke="#000" stroke-width="0.6"/>
<text x="555.20" y="551.55" font-size="9.0" text-anchor="middle" fill="#000">b</text>
<rect x="479.40" y="466.00" width="84.00" height="102.00" fill="none" stroke="#000" stroke-width="0.9"/>
<text x="476.20" y="571.51" font-size="9.2" text-anchor="end" fill="#000">0</text>
<text x="476.20" y="554.51" font-size="9.2" text-anchor="end" fill="#000">0.2</text>
<text x="476.20" y="537.51" font-size="9.2" text-anchor="end" fill="#000">0.4</text>
<text x="476.20" y="520.51" font-size="9.2" text-anchor="end" fill="#000">0.6</text>
<text x="476.20" y="503.51" font-size="9.2" text-anchor="end" fill="#000">0.8</text>
<text x="476.20" y="486.51" font-size="9.2" text-anchor="end" fill="#000">1</text>
<text x="476.20" y="469.51" font-size="9.2" text-anchor="end" fill="#000">1.2</text>
<path d="M479.40 568.00h1.6M479.40 551.00h1.6M479.40 534.00h1.6M479.40 517.00h1.6M479.40 500.00h1.6M479.40 483.00h1.6M479.40 466.00h1.6M496.60 568.00v-2M513.40 568.00v-2M530.20 568.00v-2M547.00 568.00v-2" stroke="#000" stroke-width="0.8" fill="none"/>
<text x="458.20" y="518.00" font-size="10.7" text-anchor="middle" transform="rotate(-90 458.20 518.00)" fill="#000">Relative intensity</text>
<text x="560.80" y="479.60" font-size="10.7" text-anchor="end" font-style="italic" fill="#000">JAZ10</text>
<text x="488.30" y="578.80" font-size="9.3" text-anchor="middle" fill="#000">0</text>
<text x="505.00" y="578.80" font-size="9.3" text-anchor="middle" fill="#000">1</text>
<text x="521.70" y="578.80" font-size="9.3" text-anchor="middle" fill="#000">6</text>
<text x="538.60" y="578.80" font-size="9.3" text-anchor="middle" fill="#000">24</text>
<text x="555.20" y="578.80" font-size="9.3" text-anchor="middle" fill="#000">48h</text>
<text x="522.00" y="591.20" font-size="10.7" text-anchor="middle" fill="#000">Time of sub</text>
<rect x="604.80" y="483.00" width="7.00" height="85.00" fill="#0d6ec4" stroke="#000" stroke-width="0.8"/>
<path d="M608.30 483.00V477.90M607.00 477.90H609.60" stroke="#000" stroke-width="0.85" fill="none"/>
<circle cx="608.30" cy="477.90" r="1.15" fill="#fff" stroke="#000" stroke-width="0.6"/>
<circle cx="608.30" cy="483.00" r="1.15" fill="#fff" stroke="#000" stroke-width="0.6"/>
<circle cx="608.30" cy="486.40" r="1.15" fill="#fff" stroke="#000" stroke-width="0.6"/>
<text x="608.30" y="475.90" font-size="9.0" text-anchor="middle" fill="#000">a</text>
<rect x="621.30" y="539.10" width="7.00" height="28.90" fill="#fff" stroke="#000" stroke-width="0.8"/>
<path d="M624.80 539.10V535.70M623.50 535.70H626.10" stroke="#000" stroke-width="0.85" fill="none"/>
<circle cx="624.80" cy="535.70" r="1.15" fill="#fff" stroke="#000" stroke-width="0.6"/>
<circle cx="624.80" cy="539.10" r="1.15" fill="#fff" stroke="#000" stroke-width="0.6"/>
<circle cx="624.80" cy="542.50" r="1.15" fill="#fff" stroke="#000" stroke-width="0.6"/>
<text x="624.80" y="533.70" font-size="9.0" text-anchor="middle" fill="#000">b</text>
<rect x="638.20" y="550.58" width="7.00" height="17.42" fill="#fff" stroke="#000" stroke-width="0.8"/>
<path d="M641.70 550.58V549.30M640.40 549.30H643.00" stroke="#000" stroke-width="0.85" fill="none"/>
<circle cx="640.30" cy="549.30" r="1.15" fill="#fff" stroke="#000" stroke-width="0.6"/>
<circle cx="641.70" cy="550.58" r="1.15" fill="#fff" stroke="#000" stroke-width="0.6"/>
<circle cx="643.10" cy="551.42" r="1.15" fill="#fff" stroke="#000" stroke-width="0.6"/>
<text x="641.70" y="547.30" font-size="9.0" text-anchor="middle" fill="#000">c</text>
<rect x="655.00" y="553.55" width="7.00" height="14.45" fill="#fff" stroke="#000" stroke-width="0.8"/>
<path d="M658.50 553.55V551.00M657.20 551.00H659.80" stroke="#000" stroke-width="0.85" fill="none"/>
<circle cx="658.50" cy="551.00" r="1.15" fill="#fff" stroke="#000" stroke-width="0.6"/>
<circle cx="659.30" cy="553.55" r="1.15" fill="#fff" stroke="#000" stroke-width="0.6"/>
<circle cx="658.00" cy="555.25" r="1.15" fill="#fff" stroke="#000" stroke-width="0.6"/>
<text x="658.50" y="549.00" font-size="9.0" text-anchor="middle" fill="#000">c</text>
<rect x="671.40" y="551.00" width="7.00" height="17.00" fill="#fff" stroke="#000" stroke-width="0.8"/>
<path d="M674.90 551.00V549.73M673.60 549.73H676.20" stroke="#000" stroke-width="0.85" fill="none"/>
<circle cx="673.50" cy="549.73" r="1.15" fill="#fff" stroke="#000" stroke-width="0.6"/>
<circle cx="674.90" cy="551.00" r="1.15" fill="#fff" stroke="#000" stroke-width="0.6"/>
<circle cx="676.30" cy="551.85" r="1.15" fill="#fff" stroke="#000" stroke-width="0.6"/>
<text x="674.90" y="547.73" font-size="9.0" text-anchor="middle" fill="#000">c</text>
<rect x="599.60" y="466.00" width="84.20" height="102.00" fill="none" stroke="#000" stroke-width="0.9"/>
<text x="596.40" y="571.51" font-size="9.2" text-anchor="end" fill="#000">0</text>
<text x="596.40" y="554.51" font-size="9.2" text-anchor="end" fill="#000">0.2</text>
<text x="596.40" y="537.51" font-size="9.2" text-anchor="end" fill="#000">0.4</text>
<text x="596.40" y="520.51" font-size="9.2" text-anchor="end" fill="#000">0.6</text>
<text x="596.40" y="503.51" font-size="9.2" text-anchor="end" fill="#000">0.8</text>
<text x="596.40" y="486.51" font-size="9.2" text-anchor="end" fill="#000">1</text>
<text x="596.40" y="469.51" font-size="9.2" text-anchor="end" fill="#000">1.2</text>
<path d="M599.60 568.00h1.6M599.60 551.00h1.6M599.60 534.00h1.6M599.60 517.00h1.6M599.60 500.00h1.6M599.60 483.00h1.6M599.60 466.00h1.6M616.50 568.00v-2M633.30 568.00v-2M650.10 568.00v-2M666.80 568.00v-2" stroke="#000" stroke-width="0.8" fill="none"/>
<text x="579.60" y="518.00" font-size="10.7" text-anchor="middle" transform="rotate(-90 579.60 518.00)" fill="#000">Relative intensity</text>
<text x="681.20" y="479.60" font-size="10.7" text-anchor="end" font-style="italic" fill="#000">OPR3</text>
<text x="608.30" y="578.80" font-size="9.3" text-anchor="middle" fill="#000">0</text>
<text x="624.80" y="578.80" font-size="9.3" text-anchor="middle" fill="#000">1</text>
<text x="641.70" y="578.80" font-size="9.3" text-anchor="middle" fill="#000">6</text>
<text x="658.50" y="578.80" font-size="9.3" text-anchor="middle" fill="#000">24</text>
<text x="674.90" y="578.80" font-size="9.3" text-anchor="middle" fill="#000">48h</text>
<text x="641.70" y="591.20" font-size="10.7" text-anchor="middle" fill="#000">Time of sub</text>
</svg>
</body></html>
